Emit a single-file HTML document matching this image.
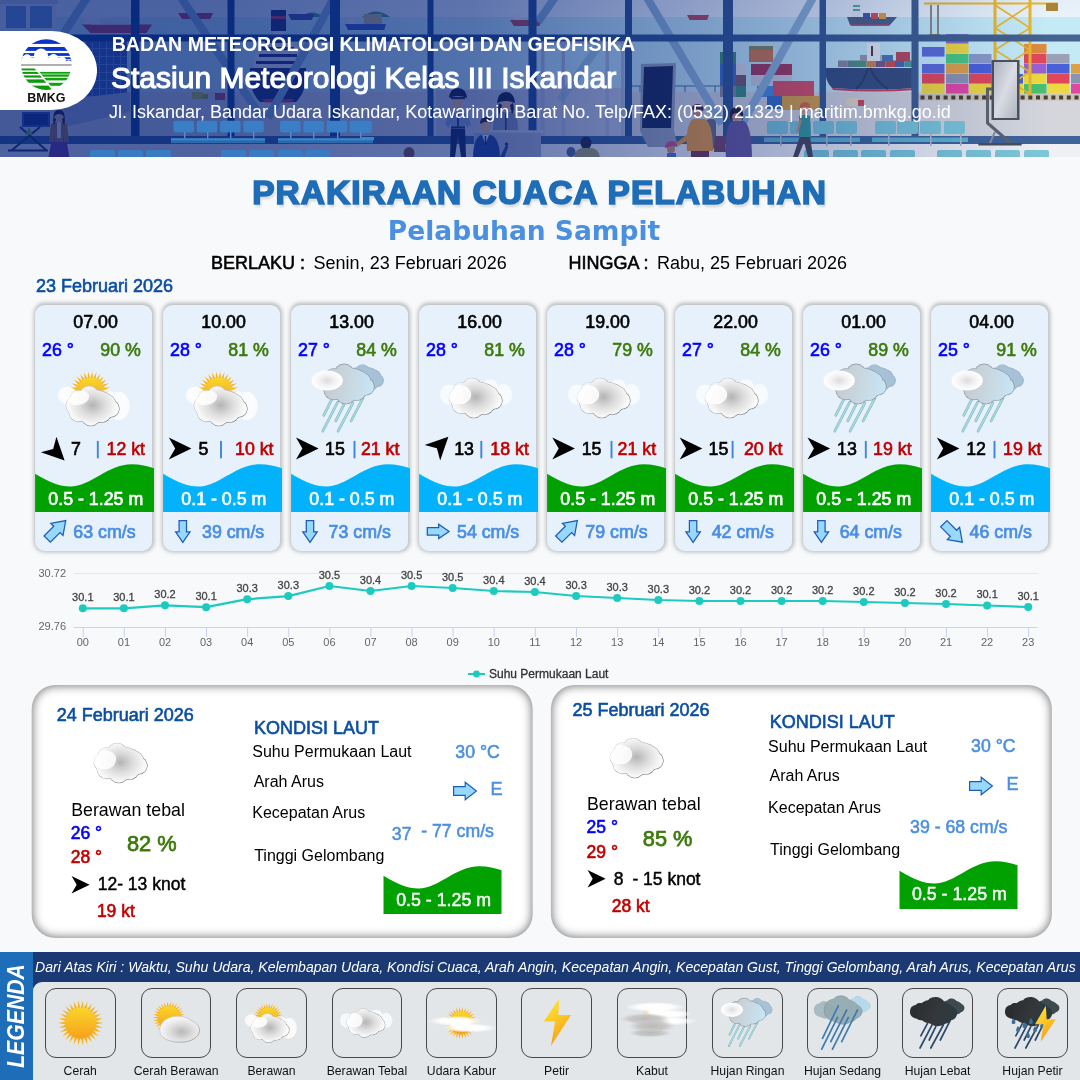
<!DOCTYPE html>
<html lang="id"><head><meta charset="utf-8"><title>Prakiraan Cuaca Pelabuhan - Pelabuhan Sampit</title>
<style>
html,body{margin:0;padding:0}
body{width:1080px;height:1080px;position:relative;overflow:hidden;background:#f8f9fb;font-family:"Liberation Sans",sans-serif}
.t{position:absolute;white-space:nowrap;line-height:1}
.abs{position:absolute}
.card{position:absolute;top:305px;width:118px;height:245px}
.card>.bg{position:absolute;left:0;top:0;width:117.4px;height:246.1px;background:#e7f1fc;border-radius:9.5px;box-shadow:0 0 4.5px 1px rgba(0,0,0,.27);transform:translate(.1px,-.1px)}
.panel{position:absolute;left:0;top:0;width:501.2px;height:253.3px;background:#fff;border-radius:24px;box-shadow:inset 0 0 10px 1px rgba(0,0,0,.52)}
svg{position:absolute;overflow:visible}
#w{position:absolute;left:0;top:0;width:1080px;height:1080px;overflow:hidden;will-change:transform;transform:translateZ(0)}
</style></head><body><div id="w">

<svg width="0" height="0" style="left:0;top:0"><defs>
<radialGradient id="gCl" gradientUnits="userSpaceOnUse" cx="26.5" cy="24" r="27" gradientTransform="scale(1,0.8)"><stop offset="0" stop-color="#b4b4b4"/><stop offset="0.45" stop-color="#dcdcdc"/><stop offset="0.85" stop-color="#f6f6f6"/><stop offset="1" stop-color="#fdfdfd"/></radialGradient>
<linearGradient id="gClS" gradientUnits="userSpaceOnUse" x1="5" y1="0" x2="45" y2="40"><stop offset="0" stop-color="#d8d8d8"/><stop offset="0.5" stop-color="#aaa"/><stop offset="1" stop-color="#6e6e6e"/></linearGradient>
<radialGradient id="gCl2" cx="0.55" cy="0.6" r="0.6"><stop offset="0" stop-color="#b8b8b8"/><stop offset="0.5" stop-color="#dedede"/><stop offset="0.9" stop-color="#f6f6f6"/><stop offset="1" stop-color="#fdfdfd"/></radialGradient>
<linearGradient id="gClS2" x1="0" y1="0" x2="1" y2="1"><stop offset="0" stop-color="#d8d8d8"/><stop offset="0.5" stop-color="#aaa"/><stop offset="1" stop-color="#6e6e6e"/></linearGradient>
<linearGradient id="gSun" x1="0" y1="0" x2="0" y2="1"><stop offset="0" stop-color="#f9d62a"/><stop offset="1" stop-color="#f8a01c"/></linearGradient>
<linearGradient id="gRn" gradientUnits="userSpaceOnUse" x1="0" y1="12" x2="53" y2="24"><stop offset="0" stop-color="#c4c7ca"/><stop offset="0.5" stop-color="#c9d6df"/><stop offset="1" stop-color="#c6e6f7"/></linearGradient>
<radialGradient id="gPf" cx="0.5" cy="0.5" r="0.5"><stop offset="0" stop-color="#dcdcdc"/><stop offset="0.55" stop-color="#f4f4f4"/><stop offset="1" stop-color="#ffffff"/></radialGradient>
<linearGradient id="gBolt" x1="0.3" y1="0" x2="0.7" y2="1"><stop offset="0" stop-color="#fde53a"/><stop offset="0.5" stop-color="#fbc222"/><stop offset="1" stop-color="#f6921e"/></linearGradient>
<linearGradient id="gDk" x1="0" y1="0" x2="1" y2="0.3"><stop offset="0" stop-color="#2a2d30"/><stop offset="0.6" stop-color="#34383b"/><stop offset="1" stop-color="#2b3a40"/></linearGradient>
<clipPath id="cpCl"><path d="M13.4,4.6 C16,0.6 22,-0.6 27,0.4 C31,1.2 33.4,3.8 35.4,6 C40,7.4 44,10 47,13 C51,15 53.6,18.5 53.3,22.5 C53,27 50,30.5 45,32 C43,35 40,36.5 37,36.6 C34,39 29,40.3 25,39.9 C21,39.5 18,38 16,36.4 C12,36 8,34.5 5,32 C1.5,29 0,25 0,21.5 C0,16 1,12 4,9 C7,6.3 10,5 13.4,4.6 Z"/></clipPath>
<clipPath id="cpCl2"><circle cx="23.1" cy="9.7" r="9.70"/><circle cx="33.5" cy="13.5" r="8.20"/><circle cx="40.5" cy="17.3" r="9.00"/><circle cx="44.7" cy="22.6" r="8.60"/><circle cx="36.0" cy="27.8" r="8.60"/><circle cx="24.8" cy="30.0" r="9.90"/><circle cx="12.6" cy="26.2" r="9.60"/><circle cx="8.9" cy="19.5" r="8.90"/><circle cx="12.5" cy="13.0" r="8.40"/><ellipse cx="26.6" cy="20.4" rx="23.60" ry="16.60"/></clipPath>
<clipPath id="cpSunTop"><rect x="-30" y="-30" width="60" height="38"/></clipPath>
<clipPath id="cpB"><circle cx="46.3" cy="64.6" r="25.3"/></clipPath>
<clipPath id="cpBL"><path d="M20,66 H32.6 L52.9,91 H20z"/></clipPath>
<clipPath id="cpBR"><path d="M34.6,66 H73 V91 H54.9z"/></clipPath>
</defs></svg>
<svg style="left:0;top:0" width="1080" height="157" viewBox="0 0 1080 157">
<defs><linearGradient id="hOv" x1="0" y1="0" x2="1" y2="0"><stop offset="0" stop-color="#001e78" stop-opacity="0.68"/><stop offset="0.2" stop-color="#001e78" stop-opacity="0.67"/><stop offset="0.44" stop-color="#001e78" stop-opacity="0.59"/><stop offset="0.72" stop-color="#001e78" stop-opacity="0.31"/><stop offset="0.97" stop-color="#001e78" stop-opacity="0"/></linearGradient><linearGradient id="hBar" gradientUnits="userSpaceOnUse" x1="0" y1="0" x2="1080" y2="0"><stop offset="0" stop-color="#12428f"/><stop offset="0.5" stop-color="#2a5290"/><stop offset="1" stop-color="#46648f"/></linearGradient><linearGradient id="hSky" x1="0" y1="0" x2="0" y2="1"><stop offset="0" stop-color="#e4eef8"/><stop offset="1" stop-color="#eaf3fa"/></linearGradient><linearGradient id="hMir" x1="0" y1="0" x2="1" y2="1"><stop offset="0" stop-color="#b9bdc4"/><stop offset="0.5" stop-color="#e4e6ea"/><stop offset="1" stop-color="#b4b8c0"/></linearGradient><clipPath id="hClip"><rect width="1080" height="157"/></clipPath></defs>
<g clip-path="url(#hClip)">
<rect x="0" y="0" width="1080" height="18" fill="url(#hSky)"/>
<rect x="0" y="17" width="1080" height="78" fill="#c4eaf6"/>
<rect x="0" y="92" width="1080" height="46" fill="#d4d6dc"/>
<rect x="0" y="143" width="1080" height="14" fill="#eef0f4"/>
<path d="M300,17 q12,-9 24,0 z M362,17 q14,-11 28,0 z" fill="#4aa08a"/>
<path d="M82,24.5 h70 l-5.6,8.5 h-56.0 z" fill="#b84060"/>
<rect x="90.4" y="16.85" width="15.4" height="7.65" fill="#e8e8ee"/>
<rect x="100" y="19" width="30" height="5.5" fill="#d8dcea"/>
<rect x="84" y="14" width="6" height="10" fill="#e8e8f0"/>
<path d="M178,13 h35 l-2.8,6 h-28.0 z" fill="#b84060"/>
<rect x="182.2" y="7.6" width="7.7" height="5.4" fill="#e8e8ee"/>
<path d="M288,14 h26 l-2.1,6 h-20.8 z" fill="#4a5a9a"/>
<rect x="291.12" y="8.6" width="5.72" height="5.4" fill="#e8e8ee"/>
<path d="M345,24 h26 l-2.1,6 h-20.8 z" fill="#3f5fc0"/>
<rect x="348.12" y="18.6" width="5.72" height="5.4" fill="#e8e8ee"/>
<path d="M362,24 h24 l-1.9,6 h-19.2 z" fill="#3f5fc0"/>
<rect x="364.88" y="18.6" width="5.28" height="5.4" fill="#e8e8ee"/>
<rect x="364" y="14" width="18" height="10" fill="#c8b888"/>
<path d="M510,20 h32 l-2.6,6 h-25.6 z" fill="#c04a5a"/>
<rect x="513.84" y="14.6" width="7.04" height="5.4" fill="#e8e8ee"/>
<path d="M687,15 h22 l-1.8,5 h-17.6 z" fill="#c04a5a"/>
<rect x="689.64" y="10.5" width="4.84" height="4.5" fill="#e8e8ee"/>
<path d="M847,17 h50 l-7,8 h-40 z" fill="#4c6288"/><path d="M850,24.5 h40 l-1,1.5 h-38z" fill="#d0485a"/>
<rect x="852" y="3" width="9" height="14" fill="#e4eef0"/>
<rect x="853" y="5" width="7" height="2" fill="#5fa8b0"/>
<rect x="853" y="9" width="7" height="2" fill="#5fa8b0"/>
<rect x="863" y="13" width="7" height="3" fill="#4a5a9a"/>
<rect x="871" y="13" width="7" height="3" fill="#d8504a"/>
<rect x="879" y="13" width="7" height="3" fill="#e0a040"/>
<rect x="863" y="16" width="7" height="3" fill="#4a5a9a"/>
<rect x="871" y="16" width="7" height="3" fill="#d8504a"/>
<rect x="879" y="16" width="7" height="3" fill="#e0a040"/>
<path d="M250,68 h56 q2,22 -10,34 h-36 q-12,-12 -10,-34z" fill="#27356e"/>
<path d="M262,99 h32 l-3,3.5 h-26z" fill="#c8405a"/>
<path d="M253,68 q1,-26 25,-38 q24,12 25,38z" fill="#e8ecf4"/>
<rect x="265.0" y="40" width="26" height="3" fill="#27356e"/>
<rect x="262.0" y="47" width="32" height="3" fill="#27356e"/>
<rect x="259.0" y="54" width="38" height="3" fill="#27356e"/>
<rect x="256.0" y="61" width="44" height="3" fill="#27356e"/>
<rect x="271" y="10" width="15" height="21" fill="#27356e"/>
<rect x="271" y="16" width="15" height="3" fill="#c8405a"/>
<path d="M826,68 h90 v20 q-40,3 -84,0 q-8,-8 -6,-20z" fill="#38507c"/>
<path d="M832,88 q44,3 84,0 v2 q-40,3 -83,0z" fill="#c8405a"/>
<path d="M868,68 q-4,14 -12,21 M870,68 q6,14 18,21" stroke="#2c4168" stroke-width="2" fill="none"/>
<rect x="838.0" y="60.5" width="9.5" height="6.5" fill="#8a8a9a"/>
<rect x="847.5" y="60.5" width="9.5" height="6.5" fill="#5a8a8a"/>
<rect x="857.0" y="60.5" width="9.5" height="6.5" fill="#4a9a7a"/>
<rect x="866.5" y="60.5" width="9.5" height="6.5" fill="#c8884a"/>
<rect x="876.0" y="60.5" width="9.5" height="6.5" fill="#7a5a8a"/>
<rect x="885.5" y="60.5" width="9.5" height="6.5" fill="#c8504a"/>
<rect x="895.0" y="60.5" width="9.5" height="6.5" fill="#4a6ab0"/>
<rect x="904.5" y="60.5" width="9.5" height="6.5" fill="#4a9a9a"/>
<rect x="860" y="55" width="11" height="6" fill="#9a9aa8"/>
<rect x="871" y="55" width="11" height="6" fill="#b8b8c4"/>
<rect x="882" y="55" width="11" height="6" fill="#4a7ab0"/>
<rect x="867" y="43" width="13" height="18" fill="#eceef2"/>
<rect x="871" y="46" width="2" height="10" fill="#444"/>
<rect x="896" y="52" width="14" height="9" fill="#b84a5a"/>
<rect x="192" y="92" width="11" height="7" fill="#c8c040"/>
<rect x="203" y="94" width="5" height="5" fill="#a8a838"/>
<rect x="215" y="93" width="10" height="7" fill="#c04a5a"/>
<rect x="846" y="98" width="12" height="8" fill="#e8dcc0"/>
<rect x="858" y="100" width="6" height="6" fill="#d0485a"/>
<rect x="85" y="40" width="42" height="62" fill="#3f63b8"/>
<rect x="85" y="40" width="1" height="62" fill="#6f90d0"/>
<rect x="92" y="40" width="1" height="62" fill="#6f90d0"/>
<rect x="99" y="40" width="1" height="62" fill="#6f90d0"/>
<rect x="106" y="40" width="1" height="62" fill="#6f90d0"/>
<rect x="113" y="40" width="1" height="62" fill="#6f90d0"/>
<rect x="120" y="40" width="1" height="62" fill="#6f90d0"/>
<rect x="85" y="40" width="42" height="1" fill="#6f90d0"/>
<rect x="85" y="48" width="42" height="1" fill="#6f90d0"/>
<rect x="85" y="56" width="42" height="1" fill="#6f90d0"/>
<rect x="85" y="64" width="42" height="1" fill="#6f90d0"/>
<rect x="85" y="72" width="42" height="1" fill="#6f90d0"/>
<rect x="85" y="80" width="42" height="1" fill="#6f90d0"/>
<rect x="85" y="88" width="42" height="1" fill="#6f90d0"/>
<rect x="85" y="96" width="42" height="1" fill="#6f90d0"/>
<path d="M60,100 L130,92 L130,112 L60,128z" fill="#aab4d0"/>
<path d="M0,0 h56 v30 h-56z" fill="#dfe6f0"/>
<rect x="6" y="6" width="20" height="22" fill="#6f9ad0"/>
<rect x="30" y="6" width="22" height="22" fill="#6f9ad0"/>
<rect x="0" y="0" width="58" height="4" fill="#c4cede"/>
<rect x="720" y="52" width="16" height="12" fill="#3f8f6f"/>
<rect x="720" y="64" width="16" height="11" fill="#4070c4"/>
<rect x="736" y="64" width="10" height="11" fill="#dadce4"/>
<rect x="736" y="75" width="10" height="11" fill="#7a5a6a"/>
<rect x="720" y="75" width="16" height="11" fill="#4070c4"/>
<rect x="720" y="86" width="16" height="11" fill="#8a8a9a"/>
<rect x="736" y="86" width="10" height="11" fill="#3f8f7f"/>
<rect x="749" y="50" width="24" height="12" fill="#cf7a4c"/>
<rect x="749" y="46" width="24" height="4" fill="#8a8a5a"/>
<rect x="751" y="64" width="41" height="11" fill="#a83c5c"/>
<rect x="751" y="75" width="41" height="11" fill="#cfd1dc"/>
<rect x="757" y="86" width="18" height="11" fill="#4a90dc"/>
<rect x="773" y="81" width="41" height="15" fill="#dc5262"/>
<rect x="767" y="96" width="15" height="13" fill="#3a70c4"/>
<rect x="782" y="96" width="37" height="14" fill="#dca444"/>
<rect x="922" y="47" width="22.5" height="9.6" fill="#5b6bd8"/>
<rect x="922" y="64" width="22.5" height="9.6" fill="#5b6bd8"/>
<rect x="922" y="74" width="22.5" height="9.6" fill="#e0485a"/>
<rect x="922" y="84" width="22.5" height="9.6" fill="#ecd840"/>
<rect x="946" y="34" width="22.5" height="9.6" fill="#8a6ad0"/>
<rect x="946" y="44" width="22.5" height="9.6" fill="#ecd840"/>
<rect x="946" y="54" width="22.5" height="9.6" fill="#48c880"/>
<rect x="946" y="64" width="22.5" height="9.6" fill="#dca048"/>
<rect x="946" y="74" width="22.5" height="9.6" fill="#8a94b0"/>
<rect x="946" y="84" width="22.5" height="9.6" fill="#e048a0"/>
<rect x="969" y="54" width="22.5" height="9.6" fill="#8a9ac8"/>
<rect x="969" y="64" width="22.5" height="9.6" fill="#4a60d8"/>
<rect x="969" y="74" width="22.5" height="9.6" fill="#e0485a"/>
<rect x="969" y="84" width="22.5" height="9.6" fill="#ecd840"/>
<rect x="1024" y="44" width="22.5" height="9.6" fill="#dc8a40"/>
<rect x="1024" y="54" width="22.5" height="9.6" fill="#e0485a"/>
<rect x="1024" y="64" width="22.5" height="9.6" fill="#9a60d0"/>
<rect x="1024" y="74" width="22.5" height="9.6" fill="#ecd840"/>
<rect x="1024" y="84" width="22.5" height="9.6" fill="#48c070"/>
<rect x="1047" y="54" width="22.5" height="9.6" fill="#9aa0b8"/>
<rect x="1047" y="64" width="22.5" height="9.6" fill="#4a60d8"/>
<rect x="1047" y="74" width="22.5" height="9.6" fill="#e0485a"/>
<rect x="1047" y="84" width="22.5" height="9.6" fill="#ecd840"/>
<rect x="1071" y="64" width="22.5" height="9.6" fill="#dca048"/>
<rect x="1071" y="74" width="22.5" height="9.6" fill="#8a94b0"/>
<rect x="1071" y="84" width="22.5" height="9.6" fill="#e048a0"/>
<rect x="993" y="64" width="15" height="9.6" fill="#e0485a"/>
<rect x="993" y="74" width="15" height="9.6" fill="#ecd840"/>
<rect x="993" y="84" width="15" height="9.6" fill="#e048a0"/>
<rect x="1008" y="74" width="15" height="9.6" fill="#4a60d8"/>
<rect x="1008" y="84" width="15" height="9.6" fill="#ecd840"/>
<rect x="918" y="94.2" width="162" height="6.3" fill="#c8c4b8"/>
<rect x="920.5" y="95.5" width="4" height="4" fill="#4a4030"/>
<rect x="928.2" y="95.5" width="4" height="4" fill="#4a4030"/>
<rect x="935.9" y="95.5" width="4" height="4" fill="#4a4030"/>
<rect x="943.6" y="95.5" width="4" height="4" fill="#4a4030"/>
<rect x="951.3" y="95.5" width="4" height="4" fill="#4a4030"/>
<rect x="959.0" y="95.5" width="4" height="4" fill="#4a4030"/>
<rect x="966.7" y="95.5" width="4" height="4" fill="#4a4030"/>
<rect x="974.4" y="95.5" width="4" height="4" fill="#4a4030"/>
<rect x="982.1" y="95.5" width="4" height="4" fill="#4a4030"/>
<rect x="989.8" y="95.5" width="4" height="4" fill="#4a4030"/>
<rect x="997.5" y="95.5" width="4" height="4" fill="#4a4030"/>
<rect x="1005.2" y="95.5" width="4" height="4" fill="#4a4030"/>
<rect x="1012.9" y="95.5" width="4" height="4" fill="#4a4030"/>
<rect x="1020.6" y="95.5" width="4" height="4" fill="#4a4030"/>
<rect x="1028.3" y="95.5" width="4" height="4" fill="#4a4030"/>
<rect x="1036.0" y="95.5" width="4" height="4" fill="#4a4030"/>
<rect x="1043.7" y="95.5" width="4" height="4" fill="#4a4030"/>
<rect x="1051.4" y="95.5" width="4" height="4" fill="#4a4030"/>
<rect x="1059.1" y="95.5" width="4" height="4" fill="#4a4030"/>
<rect x="1066.8" y="95.5" width="4" height="4" fill="#4a4030"/>
<rect x="1074.5" y="95.5" width="4" height="4" fill="#4a4030"/>
<rect x="1082.2" y="95.5" width="4" height="4" fill="#4a4030"/>
<g fill="none" stroke="#e6b62c" stroke-width="2.2"><path d="M924,3.5 H1058"/><path d="M995,0 V95 M1030,0 V95" stroke-width="3"/><path d="M995,5 L1030,28 L995,50 L1030,72 L995,94 M1030,5 L995,28 L1030,50 L995,72 L1030,94" stroke-width="1.6"/></g>
<rect x="1046" y="3" width="12" height="8" fill="#a8843a"/>
<rect x="930" y="5" width="2" height="30" fill="#8a8a8a"/>
<rect x="937" y="5" width="2" height="30" fill="#8a8a8a"/>
<rect x="929" y="34" width="11" height="3" fill="#a8843a"/>
<rect x="436" y="90" width="190" height="46" fill="#c2c6d8"/>
<rect x="540" y="88" width="85" height="48" fill="#c6cadc"/>
<rect x="541" y="42" width="3.5" height="94" fill="#b4bcd8"/>
<rect x="561.5" y="42" width="3.5" height="94" fill="#b4bcd8"/>
<rect x="605.5" y="42" width="3.5" height="94" fill="#b4bcd8"/>
<rect x="621" y="42" width="3.5" height="94" fill="#b4bcd8"/>
<rect x="540" y="42" width="85" height="2.5" fill="#b4bcd8"/>
<path d="M631,86 H720 M640,86v6 M655,86v6 M670,86v6 M685,86v6 M700,86v6 M715,86v6" stroke="#5a6a90" stroke-width="1" fill="none"/>
<g stroke="#90b5d6" stroke-width="8" fill="none"><path d="M180,-4 L262,118"/><path d="M335,-4 L268,118"/><path d="M88,-4 L40,70"/><path d="M556,-4 L538,22"/><path d="M646,-4 L722,124"/><path d="M814,-4 L742,124"/><path d="M600,44 L560,100" stroke-opacity="0.6"/></g>
<rect x="131" y="0" width="8.5" height="140" fill="url(#hBar)"/>
<rect x="227.5" y="0" width="7" height="140" fill="url(#hBar)"/>
<rect x="330" y="0" width="10" height="140" fill="url(#hBar)"/>
<rect x="427.5" y="0" width="6" height="140" fill="url(#hBar)"/>
<rect x="528.5" y="0" width="8" height="140" fill="url(#hBar)"/>
<rect x="625" y="0" width="7" height="140" fill="url(#hBar)"/>
<rect x="723" y="0" width="10" height="140" fill="url(#hBar)"/>
<rect x="819.5" y="0" width="6.5" height="140" fill="url(#hBar)"/>
<rect x="911.5" y="0" width="7" height="140" fill="url(#hBar)"/>
<rect x="0" y="34.5" width="1080" height="7" fill="url(#hBar)"/>
<rect x="0" y="136" width="1080" height="8" fill="#3f6499"/>
<path d="M641,64 L676,63 L674,131 L640,131z" fill="#9aa2b8"/><path d="M644,67 L673,66 L671,128 L642,128z" fill="#1f2c58"/>
<path d="M640,131 h34 l4,16 h-30z" fill="#9aa2b8"/>
<rect x="991.5" y="60" width="28" height="60" fill="#4e525c"/>
<rect x="994" y="62" width="23" height="56" fill="url(#hMir)"/>
<path d="M992,89 h-4.5 v34 l23,20" stroke="#5e636c" stroke-width="3" fill="none"/><path d="M978.3,144.3 h43.4" stroke="#4a4e58" stroke-width="2.6"/><path d="M990,143 l5,-11" stroke="#8a8f98" stroke-width="2"/>
<rect x="767" y="121" width="21" height="13" fill="#7cc8d8" rx="2"/>
<rect x="790" y="121" width="21" height="13" fill="#7cc8d8" rx="2"/>
<rect x="813" y="121" width="21" height="13" fill="#7cc8d8" rx="2"/>
<rect x="836" y="121" width="21" height="13" fill="#7cc8d8" rx="2"/>
<rect x="875" y="121" width="21" height="13" fill="#7cc8d8" rx="2"/>
<rect x="897" y="121" width="21" height="13" fill="#7cc8d8" rx="2"/>
<rect x="920" y="121" width="21" height="13" fill="#7cc8d8" rx="2"/>
<rect x="944" y="121" width="21" height="13" fill="#7cc8d8" rx="2"/>
<rect x="764" y="137.5" width="96" height="4.5" fill="#5fb4cc"/>
<rect x="872" y="137.5" width="96" height="4.5" fill="#5fb4cc"/>
<rect x="780" y="134" width="1.6" height="12" fill="#b0b8c8"/>
<rect x="826" y="134" width="1.6" height="12" fill="#b0b8c8"/>
<rect x="850" y="134" width="1.6" height="12" fill="#b0b8c8"/>
<rect x="888" y="134" width="1.6" height="12" fill="#b0b8c8"/>
<rect x="930" y="134" width="1.6" height="12" fill="#b0b8c8"/>
<rect x="960" y="134" width="1.6" height="12" fill="#b0b8c8"/>
<rect x="804" y="150" width="25" height="10" fill="#7cc8d8" rx="2"/>
<rect x="833" y="150" width="25" height="10" fill="#7cc8d8" rx="2"/>
<rect x="861" y="150" width="25" height="10" fill="#7cc8d8" rx="2"/>
<rect x="890" y="150" width="25" height="10" fill="#7cc8d8" rx="2"/>
<rect x="937" y="150" width="25" height="10" fill="#7cc8d8" rx="2"/>
<rect x="966" y="150" width="25" height="10" fill="#7cc8d8" rx="2"/>
<rect x="995" y="150" width="25" height="10" fill="#7cc8d8" rx="2"/>
<rect x="1024" y="150" width="25" height="10" fill="#7cc8d8" rx="2"/>
<path d="M52,138 L66,138 L70,160 L48,160z" fill="#7a3f9a"/>
<path d="M51,124 q8,-5 16,0 l2,18 h-5 l-1,-8 v8 h-8 v-8 l-1,8 h-5z" fill="#a87850"/>
<rect x="57" y="122" width="4" height="16" fill="#f0f0f4"/>
<ellipse cx="59" cy="117" rx="4.2" ry="4.8" fill="#e8b89a"/>
<path d="M53.5,119 q-1,-9 5.5,-9 q6.5,0 5.5,9 q-1,-5 -5.5,-5 q-4.5,0 -5.5,5z" fill="#2a2040"/>
<path d="M53.5,117 q-1,6 1,8 l1.5,-6z M64.5,117 q1,6 -1,8 l-1.5,-6z" fill="#2a2040"/>
<rect x="22" y="112" width="28" height="15" fill="#3a5aa8"/>
<rect x="24" y="114" width="24" height="11" fill="#1f3a88"/>
<path d="M12,150 L40,127 M20,127 L46,150 M8,150.5 H48" stroke="#26386e" stroke-width="2" fill="none"/>
<path d="M25,135 l4,-8 l4,8z" fill="#7ab86a"/>
<path d="M451,128 h14 l1,29 h-5 l-3,-22 l-3,22 h-5z" fill="#1f2a58"/>
<path d="M448,114 q10,-4 20,0 l3,10 l-4,4 l-2,-5 v6 h-14 v-6 l-2,5 l-4,-4z" fill="#8fa4d0"/>
<rect x="451" y="126.5" width="14" height="2" fill="#27305a"/>
<rect x="457.2" y="113" width="1.6" height="14" fill="#27305a"/>
<ellipse cx="458" cy="103" rx="5.2" ry="5.6" fill="#e8b89a"/>
<path d="M449,98 q1,-10 9,-10 q8,0 9,10 q-9,-4 -18,0z" fill="#1f2340"/>
<rect x="451" y="97" width="14" height="2.2" fill="#2a2f50"/>
<path d="M493,130 q0,-16 6,-18 h13 q6,2 6,18z" fill="#8c94b4"/>
<rect x="505" y="113" width="1.5" height="17" fill="#3a4060"/>
<ellipse cx="506" cy="106" rx="5" ry="5.4" fill="#e8b89a"/>
<path d="M497,103 q1,-11 9,-11 q8,0 9,11 q-9,-4 -18,0z" fill="#1f2340"/>
<path d="M499,103 q-2,8 1,11 l2,-9z M513,103 q2,8 -1,11 l-2,-9z" fill="#1f2340"/>
<rect x="474" y="132" width="67" height="26" fill="#aeb4cc"/>
<rect x="471" y="130.3" width="73" height="2.4" fill="#c9cee0"/>
<path d="M473,160 q0,-22 8,-25 h10 q9,3 9,25z" fill="#2c4c9c"/>
<path d="M482,135 l3.5,9 l3.5,-9z" fill="#e6ecf6"/>
<rect x="484.8" y="136" width="1.4" height="9" fill="#1f2a58"/>
<ellipse cx="485.5" cy="126" rx="5" ry="6.6" fill="#e8b89a"/>
<path d="M480,124 q0,-7 6,-7 q6,0 5.5,6 q-5,-3 -11.5,1z" fill="#3a2a30"/>
<path d="M500,157 l6,-12 l2.5,1 l-4,11z" fill="#2c4c9c"/>
<ellipse cx="506.5" cy="144" rx="1.6" ry="1.6" fill="#27305a"/>
<ellipse cx="586" cy="143" rx="5.5" ry="6.5" fill="#2a2a48"/>
<path d="M574,160 q0,-12 10,-12 h6 q10,0 10,12z" fill="#a8a070"/>
<ellipse cx="571" cy="152" rx="4.5" ry="5" fill="#5a6890"/>
<rect x="566" y="157" width="12" height="4" fill="#7a88b0"/>
<ellipse cx="409" cy="153" rx="5.5" ry="6" fill="#8a5a4a"/>
<ellipse cx="671" cy="149" rx="4" ry="4.2" fill="#c89078"/>
<path d="M665,147 q1,-6 6.5,-6 q5.5,0 5.5,5 h-4 l-8,2z" fill="#c8507a"/>
<rect x="667" y="153" width="9" height="5" fill="#4a7ad0"/>
<rect x="706" y="119" width="10" height="30" fill="#6a6e80" rx="4"/>
<path d="M687,151 q-2,-26 6,-32 h12 q8,5 8,32z" fill="#e89a40"/>
<path d="M690,132 l-14,11 l2,3 l14,-8z" fill="#e89a40"/>
<rect x="691" y="151" width="18" height="7" fill="#7a3a58"/>
<ellipse cx="697.5" cy="112" rx="5" ry="5.6" fill="#c89078"/>
<path d="M691.5,111 q0,-7 6,-7 q6.5,0 6,7 q-6,-4 -12,0z" fill="#4a2a50"/>
<path d="M715,136 h10 l1,16 h-12z" fill="#7a4668"/>
<path d="M726,160 q-2,-34 6,-39 h12 q8,5 8,39z" fill="#6a5c9c"/>
<ellipse cx="736.5" cy="116" rx="4.6" ry="5.2" fill="#c89078"/>
<path d="M730,117 q-1,-10 6.5,-10 q7.5,0 6.5,10 l-1,5 q0,-9 -5.5,-9 q-5.5,0 -5.5,9z" fill="#2e2438"/>
<path d="M800,136 h10 l3,21 h-5 l-4,-15 l-6,15 h-5z" fill="#4a4a5a"/>
<path d="M799,116 q5,-3 11,0 l1,21 h-12z" fill="#3a9e98"/>
<path d="M800,118 l-4,14 l2,1 l4,-12z" fill="#c89078"/>
<ellipse cx="804.5" cy="110" rx="4.2" ry="4.8" fill="#d8a080"/>
<path d="M799.5,109 q0,-7 5.5,-7 q5.5,0 5,6 q-5,-3 -10.5,1z" fill="#e0683a"/>
<rect x="0" y="0" width="1080" height="157" fill="url(#hOv)"/>
<rect x="173.5" y="120.8" width="20.6" height="11.6" fill="#3a7ec6" rx="2"/>
<rect x="196.7" y="120.8" width="20.6" height="11.6" fill="#3a7ec6" rx="2"/>
<rect x="220" y="120.8" width="20.6" height="11.6" fill="#3a7ec6" rx="2"/>
<rect x="243.2" y="120.8" width="20.6" height="11.6" fill="#3a7ec6" rx="2"/>
<rect x="280" y="120.8" width="20.6" height="11.6" fill="#3a7ec6" rx="2"/>
<rect x="303.3" y="120.8" width="20.6" height="11.6" fill="#3a7ec6" rx="2"/>
<rect x="326.6" y="120.8" width="20.6" height="11.6" fill="#3a7ec6" rx="2"/>
<rect x="349.8" y="120.8" width="20.6" height="11.6" fill="#3a7ec6" rx="2"/>
<rect x="184" y="132" width="1.4" height="6.5" fill="#5a8ad0"/>
<rect x="207" y="132" width="1.4" height="6.5" fill="#5a8ad0"/>
<rect x="230" y="132" width="1.4" height="6.5" fill="#5a8ad0"/>
<rect x="253" y="132" width="1.4" height="6.5" fill="#5a8ad0"/>
<rect x="290" y="132" width="1.4" height="6.5" fill="#5a8ad0"/>
<rect x="313" y="132" width="1.4" height="6.5" fill="#5a8ad0"/>
<rect x="337" y="132" width="1.4" height="6.5" fill="#5a8ad0"/>
<rect x="360" y="132" width="1.4" height="6.5" fill="#5a8ad0"/>
<rect x="171" y="138.2" width="94" height="2.6" fill="#3c86c8"/>
<rect x="171" y="140.8" width="94" height="2.4" fill="#2a68b0"/>
<rect x="278" y="138.2" width="95" height="2.6" fill="#3c86c8"/>
<rect x="278" y="140.8" width="95" height="2.4" fill="#2a68b0"/>
<rect x="90" y="150" width="25" height="9" fill="#3a7cc4" rx="2.5"/>
<rect x="118" y="150" width="25" height="9" fill="#3a7cc4" rx="2.5"/>
<rect x="146" y="150" width="25" height="9" fill="#3a7cc4" rx="2.5"/>
<rect x="221" y="150" width="25" height="9" fill="#3a7cc4" rx="2.5"/>
<rect x="249" y="150" width="25" height="9" fill="#3a7cc4" rx="2.5"/>
<rect x="277.5" y="150" width="25" height="9" fill="#3a7cc4" rx="2.5"/>
<rect x="305" y="150" width="25" height="9" fill="#3a7cc4" rx="2.5"/>
<rect x="360" y="121" width="12" height="12" fill="#3a7ec6" rx="2"/>
<rect x="360" y="137" width="14" height="3" fill="#3c86c8"/>
</g></svg>
<div class="abs" style="left:-40px;top:31px;width:137px;height:79px;background:#fff;border-radius:0 45.5px 45.5px 0/0 39.5px 39.5px 0"></div>
<svg style="left:0;top:0" width="100" height="120" viewBox="0 0 100 120"><g><g clip-path="url(#cpB)"><rect x="20" y="39" width="53" height="4.9" fill="#0a34cc"/><rect x="20" y="47" width="53" height="3.9" fill="#0a34cc"/><rect x="20" y="53.1" width="53" height="2.8" fill="#0a34cc"/><rect x="20" y="57.3" width="53" height="2.0" fill="#0a34cc"/><rect x="20" y="60.2" width="53" height="1.1" fill="#0a34cc"/><g fill="#fff"><circle cx="41" cy="55.6" r="7"/><circle cx="27" cy="58.5" r="4.2"/><circle cx="53.5" cy="58.3" r="4.4"/><circle cx="62.5" cy="60.3" r="3.4"/><circle cx="68.6" cy="62" r="1.8"/><rect x="20" y="57.5" width="44" height="8"/><rect x="20" y="61.5" width="53" height="4"/></g><rect x="20" y="64.1" width="53" height="1.8" fill="#a8a8a8"/><g clip-path="url(#cpBL)" fill="#0a9a0a"><rect x="20" y="68.5" width="53" height="1.9"/><rect x="20" y="71.9" width="53" height="2.0"/><rect x="20" y="75.4" width="53" height="2.2"/><rect x="20" y="79.4" width="53" height="3.4"/><rect x="20" y="85.6" width="53" height="4.9"/></g><g clip-path="url(#cpBR)" fill="#10a010"><rect x="20" y="71.9" width="53" height="1.8"/><rect x="20" y="74.4" width="53" height="2.3"/><rect x="20" y="77.8" width="53" height="2.6"/><rect x="20" y="82.8" width="53" height="3.0"/></g></g></g></svg>
<div class="t" style="left:46.3px;top:92px;font-size:12.5px;color:#111;font-weight:bold;transform:translateX(-50%);">BMKG</div>
<div class="t" style="left:111.7px;top:35px;font-size:19.55px;color:#fff;font-weight:bold;">BADAN METEOROLOGI KLIMATOLOGI DAN GEOFISIKA</div>
<div class="t" style="left:111.0px;top:63px;font-size:30px;color:#fff;-webkit-text-stroke:1.1px #fff;">Stasiun Meteorologi Kelas III Iskandar</div>
<div class="t" style="left:109.0px;top:103px;font-size:18px;color:#fff;">Jl. Iskandar, Bandar Udara Iskandar, Kotawaringin Barat No. Telp/FAX: (0532) 21329 | maritim.bmkg.go.id</div>
<div class="t" style="left:539.6px;top:176px;font-size:33.5px;color:#1f6db6;font-weight:bold;-webkit-text-stroke:1.7px #1f6db6;transform:translateX(-50%);letter-spacing:1.0px;text-shadow:0 0 1.5px #fff,0 0 1.5px #fff,0 0 2.5px #fff,0 0 3px #fff,1.5px 2.5px 2.5px rgba(0,0,0,.16);">PRAKIRAAN CUACA PELABUHAN</div>
<div class="t" style="left:524.0px;top:218px;font-size:26.5px;color:#4a8fe0;font-weight:bold;font-family:'DejaVu Sans', sans-serif;transform:translateX(-50%);">Pelabuhan Sampit</div>
<div class="t" style="left:211.0px;top:254px;font-size:18px;color:#000;-webkit-text-stroke:0.55px #000;">BERLAKU :</div>
<div class="t" style="left:313.6px;top:254px;font-size:18px;color:#000;">Senin, 23 Februari 2026</div>
<div class="t" style="left:568.5px;top:254px;font-size:18px;color:#000;-webkit-text-stroke:0.55px #000;">HINGGA :</div>
<div class="t" style="left:657.0px;top:254px;font-size:18px;color:#000;">Rabu, 25 Februari 2026</div>
<div class="t" style="left:35.9px;top:277px;font-size:18px;color:#0b4ea2;-webkit-text-stroke:0.6px #0b4ea2;">23 Februari 2026</div>
<div class="card" style="left:35px"><div class="bg"></div>
<div class="t" style="left:60.6px;top:9px;font-size:17.8px;color:#000;-webkit-text-stroke:0.62px #000;transform:translateX(-50%);">07.00</div>
<div class="t" style="left:7.0px;top:37px;font-size:17.8px;color:#0000ff;-webkit-text-stroke:0.62px #0000ff;">26 °</div>
<div class="t" style="left:65.3px;top:37px;font-size:17.8px;color:#3d7a0c;-webkit-text-stroke:0.62px #3d7a0c;">90 %</div>
<svg style="left:30.5px;top:81px" width="54" height="40" viewBox="0 0 54 40"><g><g transform="translate(24.2,5.6) scale(0.9)" clip-path="url(#cpSunTop)"><g><path d="M14.50,1.50L22.50,0.00L14.50,-1.50ZM13.87,4.48L22.01,4.68L14.50,1.55ZM12.64,7.27L20.55,9.15L13.86,4.53ZM10.85,9.74L18.20,13.23L12.61,7.31ZM8.59,11.78L15.06,16.72L10.82,9.77ZM5.95,13.31L11.25,19.49L8.55,11.81ZM3.05,14.25L6.95,21.40L5.91,13.33ZM0.02,14.58L2.35,22.38L3.01,14.26ZM-3.01,14.26L-2.35,22.38L-0.02,14.58ZM-5.91,13.33L-6.95,21.40L-3.05,14.25ZM-8.55,11.81L-11.25,19.49L-5.95,13.31ZM-10.82,9.77L-15.06,16.72L-8.59,11.78ZM-12.61,7.31L-18.20,13.23L-10.85,9.74ZM-13.86,4.53L-20.55,9.15L-12.64,7.27ZM-14.50,1.55L-22.01,4.68L-13.87,4.48ZM-14.50,-1.50L-22.50,0.00L-14.50,1.50ZM-13.87,-4.48L-22.01,-4.68L-14.50,-1.55ZM-12.64,-7.27L-20.55,-9.15L-13.86,-4.53ZM-10.85,-9.74L-18.20,-13.23L-12.61,-7.31ZM-8.59,-11.78L-15.06,-16.72L-10.82,-9.77ZM-5.95,-13.31L-11.25,-19.49L-8.55,-11.81ZM-3.05,-14.25L-6.95,-21.40L-5.91,-13.33ZM-0.02,-14.58L-2.35,-22.38L-3.01,-14.26ZM3.01,-14.26L2.35,-22.38L0.02,-14.58ZM5.91,-13.33L6.95,-21.40L3.05,-14.25ZM8.55,-11.81L11.25,-19.49L5.95,-13.31ZM10.82,-9.77L15.06,-16.72L8.59,-11.78ZM12.61,-7.31L18.20,-13.23L10.85,-9.74ZM13.86,-4.53L20.55,-9.15L12.64,-7.27ZM14.50,-1.55L22.01,-4.68L13.87,-4.48Z" fill="#f7b31c"/><circle r="15.6" fill="url(#gSun)"/></g></g><ellipse cx="1" cy="9.2" rx="9" ry="8.6" fill="#fff" fill-opacity="0.8"/><ellipse cx="52.5" cy="20" rx="11.2" ry="14.3" fill="#fff" fill-opacity="0.8"/><ellipse cx="40" cy="10" rx="9" ry="6" fill="#fff" fill-opacity="0.7"/><g><g fill="url(#gClS)"><circle cx="23.1" cy="9.7" r="10.05"/><circle cx="33.5" cy="13.5" r="8.55"/><circle cx="40.5" cy="17.3" r="9.35"/><circle cx="44.7" cy="22.6" r="8.95"/><circle cx="36.0" cy="27.8" r="8.95"/><circle cx="24.8" cy="30.0" r="10.25"/><circle cx="12.6" cy="26.2" r="9.95"/><circle cx="8.9" cy="19.5" r="9.25"/><circle cx="12.5" cy="13.0" r="8.75"/><ellipse cx="26.6" cy="20.4" rx="23.95" ry="16.95"/></g><g fill="url(#gCl)"><circle cx="23.1" cy="9.7" r="9.50"/><circle cx="33.5" cy="13.5" r="8.00"/><circle cx="40.5" cy="17.3" r="8.80"/><circle cx="44.7" cy="22.6" r="8.40"/><circle cx="36.0" cy="27.8" r="8.40"/><circle cx="24.8" cy="30.0" r="9.70"/><circle cx="12.6" cy="26.2" r="9.40"/><circle cx="8.9" cy="19.5" r="8.70"/><circle cx="12.5" cy="13.0" r="8.20"/><ellipse cx="26.6" cy="20.4" rx="23.40" ry="16.40"/></g></g><g clip-path="url(#cpCl2)"><ellipse cx="12.2" cy="11.7" rx="11" ry="7.4" fill="#fff" fill-opacity="0.85" transform="rotate(-8 12.2 11.7)"/></g></g></svg>
<svg style="left:0;top:0" width="118" height="245" viewBox="0 0 118 245"><path d="M21.43,131.72L29.63,155.48L5.87,147.28L18.17,144.02Z" fill="#000"/><rect x="61.85" y="135.89999999999998" width="1.9" height="17.4" fill="#3f84dc"/><path transform="translate(0.1,159) scale(1.0075,1)" d="M0,9.7 C14,18 24,22.5 35,22.5 C55,22.5 72,0.2 96,0.2 C104,0.2 112,2 118,4.3 L118,48 L0,48 Z" fill="#00a100"/><path d="M9.08,230.94L18.75,221.27L15.78,218.30L30.72,215.58L28.00,230.52L25.03,227.55L15.36,237.22Z" fill="#98d8fd" stroke="#1b5cb8" stroke-width="1.25" stroke-linejoin="miter"/></svg>
<div class="t" style="left:36.0px;top:136px;font-size:17.8px;color:#000;-webkit-text-stroke:0.62px #000;">7</div>
<div class="t" style="left:71.5px;top:136px;font-size:17.8px;color:#c00000;-webkit-text-stroke:0.62px #c00000;">12 kt</div>
<div class="t" style="left:60.8px;top:186px;font-size:17.8px;color:#fff;-webkit-text-stroke:0.62px #fff;transform:translateX(-50%);">0.5 - 1.25 m</div>
<div class="t" style="left:38.3px;top:219px;font-size:17.8px;color:#4a8ee4;-webkit-text-stroke:0.72px #4a8ee4;">63 cm/s</div>
</div>
<div class="card" style="left:163px"><div class="bg"></div>
<div class="t" style="left:60.6px;top:9px;font-size:17.8px;color:#000;-webkit-text-stroke:0.62px #000;transform:translateX(-50%);">10.00</div>
<div class="t" style="left:7.0px;top:37px;font-size:17.8px;color:#0000ff;-webkit-text-stroke:0.62px #0000ff;">28 °</div>
<div class="t" style="left:65.3px;top:37px;font-size:17.8px;color:#3d7a0c;-webkit-text-stroke:0.62px #3d7a0c;">81 %</div>
<svg style="left:30.5px;top:81px" width="54" height="40" viewBox="0 0 54 40"><g><g transform="translate(24.2,5.6) scale(0.9)" clip-path="url(#cpSunTop)"><g><path d="M14.50,1.50L22.50,0.00L14.50,-1.50ZM13.87,4.48L22.01,4.68L14.50,1.55ZM12.64,7.27L20.55,9.15L13.86,4.53ZM10.85,9.74L18.20,13.23L12.61,7.31ZM8.59,11.78L15.06,16.72L10.82,9.77ZM5.95,13.31L11.25,19.49L8.55,11.81ZM3.05,14.25L6.95,21.40L5.91,13.33ZM0.02,14.58L2.35,22.38L3.01,14.26ZM-3.01,14.26L-2.35,22.38L-0.02,14.58ZM-5.91,13.33L-6.95,21.40L-3.05,14.25ZM-8.55,11.81L-11.25,19.49L-5.95,13.31ZM-10.82,9.77L-15.06,16.72L-8.59,11.78ZM-12.61,7.31L-18.20,13.23L-10.85,9.74ZM-13.86,4.53L-20.55,9.15L-12.64,7.27ZM-14.50,1.55L-22.01,4.68L-13.87,4.48ZM-14.50,-1.50L-22.50,0.00L-14.50,1.50ZM-13.87,-4.48L-22.01,-4.68L-14.50,-1.55ZM-12.64,-7.27L-20.55,-9.15L-13.86,-4.53ZM-10.85,-9.74L-18.20,-13.23L-12.61,-7.31ZM-8.59,-11.78L-15.06,-16.72L-10.82,-9.77ZM-5.95,-13.31L-11.25,-19.49L-8.55,-11.81ZM-3.05,-14.25L-6.95,-21.40L-5.91,-13.33ZM-0.02,-14.58L-2.35,-22.38L-3.01,-14.26ZM3.01,-14.26L2.35,-22.38L0.02,-14.58ZM5.91,-13.33L6.95,-21.40L3.05,-14.25ZM8.55,-11.81L11.25,-19.49L5.95,-13.31ZM10.82,-9.77L15.06,-16.72L8.59,-11.78ZM12.61,-7.31L18.20,-13.23L10.85,-9.74ZM13.86,-4.53L20.55,-9.15L12.64,-7.27ZM14.50,-1.55L22.01,-4.68L13.87,-4.48Z" fill="#f7b31c"/><circle r="15.6" fill="url(#gSun)"/></g></g><ellipse cx="1" cy="9.2" rx="9" ry="8.6" fill="#fff" fill-opacity="0.8"/><ellipse cx="52.5" cy="20" rx="11.2" ry="14.3" fill="#fff" fill-opacity="0.8"/><ellipse cx="40" cy="10" rx="9" ry="6" fill="#fff" fill-opacity="0.7"/><g><g fill="url(#gClS)"><circle cx="23.1" cy="9.7" r="10.05"/><circle cx="33.5" cy="13.5" r="8.55"/><circle cx="40.5" cy="17.3" r="9.35"/><circle cx="44.7" cy="22.6" r="8.95"/><circle cx="36.0" cy="27.8" r="8.95"/><circle cx="24.8" cy="30.0" r="10.25"/><circle cx="12.6" cy="26.2" r="9.95"/><circle cx="8.9" cy="19.5" r="9.25"/><circle cx="12.5" cy="13.0" r="8.75"/><ellipse cx="26.6" cy="20.4" rx="23.95" ry="16.95"/></g><g fill="url(#gCl)"><circle cx="23.1" cy="9.7" r="9.50"/><circle cx="33.5" cy="13.5" r="8.00"/><circle cx="40.5" cy="17.3" r="8.80"/><circle cx="44.7" cy="22.6" r="8.40"/><circle cx="36.0" cy="27.8" r="8.40"/><circle cx="24.8" cy="30.0" r="9.70"/><circle cx="12.6" cy="26.2" r="9.40"/><circle cx="8.9" cy="19.5" r="8.70"/><circle cx="12.5" cy="13.0" r="8.20"/><ellipse cx="26.6" cy="20.4" rx="23.40" ry="16.40"/></g></g><g clip-path="url(#cpCl2)"><ellipse cx="12.2" cy="11.7" rx="11" ry="7.4" fill="#fff" fill-opacity="0.85" transform="rotate(-8 12.2 11.7)"/></g></g></svg>
<svg style="left:0;top:0" width="118" height="245" viewBox="0 0 118 245"><path d="M5.80,132.60L28.40,143.60L5.80,154.60L12.20,143.60Z" fill="#000"/><rect x="57.05" y="135.89999999999998" width="1.9" height="17.4" fill="#3f84dc"/><path transform="translate(0.1,159) scale(1.0075,1)" d="M0,9.7 C14,18 24,22.5 35,22.5 C55,22.5 72,0.2 96,0.2 C104,0.2 112,2 118,4.3 L118,48 L0,48 Z" fill="#02b2fa"/><path d="M23.50,215.50L23.50,226.90L27.00,226.90L19.80,237.30L12.60,226.90L16.10,226.90L16.10,215.50Z" fill="#98d8fd" stroke="#1b5cb8" stroke-width="1.25" stroke-linejoin="miter"/></svg>
<div class="t" style="left:35.4px;top:136px;font-size:17.8px;color:#000;-webkit-text-stroke:0.62px #000;">5</div>
<div class="t" style="left:72.0px;top:136px;font-size:17.8px;color:#c00000;-webkit-text-stroke:0.62px #c00000;">10 kt</div>
<div class="t" style="left:60.8px;top:186px;font-size:17.8px;color:#fff;-webkit-text-stroke:0.62px #fff;transform:translateX(-50%);">0.1 - 0.5 m</div>
<div class="t" style="left:39.0px;top:219px;font-size:17.8px;color:#4a8ee4;-webkit-text-stroke:0.72px #4a8ee4;">39 cm/s</div>
</div>
<div class="card" style="left:291px"><div class="bg"></div>
<div class="t" style="left:60.6px;top:9px;font-size:17.8px;color:#000;-webkit-text-stroke:0.62px #000;transform:translateX(-50%);">13.00</div>
<div class="t" style="left:7.0px;top:37px;font-size:17.8px;color:#0000ff;-webkit-text-stroke:0.62px #0000ff;">27 °</div>
<div class="t" style="left:65.3px;top:37px;font-size:17.8px;color:#3d7a0c;-webkit-text-stroke:0.62px #3d7a0c;">84 %</div>
<svg style="left:30.3px;top:58.80000000000001px" width="54" height="40" viewBox="0 0 54 40"><g><path d="M11.1,34.7L2.8,51.4M16.7,38L1.8,67.2M23.1,40.2L14.8,56.9M31.9,38.9L17.1,67.2M42.1,33.8L30.1,56.9" fill="none" stroke="#7fb0b8" stroke-width="2.6" stroke-linecap="round"/><path d="M11.1,34.7L2.8,51.4M16.7,38L1.8,67.2M23.1,40.2L14.8,56.9M31.9,38.9L17.1,67.2M42.1,33.8L30.1,56.9" fill="none" stroke="#a9dbe2" stroke-width="1.6" stroke-linecap="round"/><g transform="translate(25.6,0.8) scale(0.69)"><g fill="#8aa5b8"><circle cx="23.1" cy="9.7" r="10.30"/><circle cx="33.5" cy="13.5" r="8.80"/><circle cx="40.5" cy="17.3" r="9.60"/><circle cx="44.7" cy="22.6" r="9.20"/><circle cx="36.0" cy="27.8" r="9.20"/><circle cx="24.8" cy="30.0" r="10.50"/><circle cx="12.6" cy="26.2" r="10.20"/><circle cx="8.9" cy="19.5" r="9.50"/><circle cx="12.5" cy="13.0" r="9.00"/><ellipse cx="26.6" cy="20.4" rx="24.20" ry="17.20"/></g><g fill="#a7c2d6"><circle cx="23.1" cy="9.7" r="9.60"/><circle cx="33.5" cy="13.5" r="8.10"/><circle cx="40.5" cy="17.3" r="8.90"/><circle cx="44.7" cy="22.6" r="8.50"/><circle cx="36.0" cy="27.8" r="8.50"/><circle cx="24.8" cy="30.0" r="9.80"/><circle cx="12.6" cy="26.2" r="9.50"/><circle cx="8.9" cy="19.5" r="8.80"/><circle cx="12.5" cy="13.0" r="8.30"/><ellipse cx="26.6" cy="20.4" rx="23.50" ry="16.50"/></g></g><g fill="#8a9399"><circle cx="23.1" cy="9.7" r="10.10"/><circle cx="33.5" cy="13.5" r="8.60"/><circle cx="40.5" cy="17.3" r="9.40"/><circle cx="44.7" cy="22.6" r="9.00"/><circle cx="36.0" cy="27.8" r="9.00"/><circle cx="24.8" cy="30.0" r="10.30"/><circle cx="12.6" cy="26.2" r="10.00"/><circle cx="8.9" cy="19.5" r="9.30"/><circle cx="12.5" cy="13.0" r="8.80"/><ellipse cx="26.6" cy="20.4" rx="24.00" ry="17.00"/></g><g fill="url(#gRn)"><circle cx="23.1" cy="9.7" r="9.45"/><circle cx="33.5" cy="13.5" r="7.95"/><circle cx="40.5" cy="17.3" r="8.75"/><circle cx="44.7" cy="22.6" r="8.35"/><circle cx="36.0" cy="27.8" r="8.35"/><circle cx="24.8" cy="30.0" r="9.65"/><circle cx="12.6" cy="26.2" r="9.35"/><circle cx="8.9" cy="19.5" r="8.65"/><circle cx="12.5" cy="13.0" r="8.15"/><ellipse cx="26.6" cy="20.4" rx="23.35" ry="16.35"/></g><ellipse cx="6.2" cy="16.5" rx="15.6" ry="10" fill="url(#gPf)"/></g></svg>
<svg style="left:0;top:0" width="118" height="245" viewBox="0 0 118 245"><path d="M5.00,132.60L27.60,143.60L5.00,154.60L11.40,143.60Z" fill="#000"/><rect x="62.55" y="135.89999999999998" width="1.9" height="17.4" fill="#3f84dc"/><path transform="translate(0.1,159) scale(1.0075,1)" d="M0,9.7 C14,18 24,22.5 35,22.5 C55,22.5 72,0.2 96,0.2 C104,0.2 112,2 118,4.3 L118,48 L0,48 Z" fill="#02b2fa"/><path d="M22.70,215.50L22.70,226.90L26.20,226.90L19.00,237.30L11.80,226.90L15.30,226.90L15.30,215.50Z" fill="#98d8fd" stroke="#1b5cb8" stroke-width="1.25" stroke-linejoin="miter"/></svg>
<div class="t" style="left:34.0px;top:136px;font-size:17.8px;color:#000;-webkit-text-stroke:0.62px #000;">15</div>
<div class="t" style="left:69.9px;top:136px;font-size:17.8px;color:#c00000;-webkit-text-stroke:0.62px #c00000;">21 kt</div>
<div class="t" style="left:60.8px;top:186px;font-size:17.8px;color:#fff;-webkit-text-stroke:0.62px #fff;transform:translateX(-50%);">0.1 - 0.5 m</div>
<div class="t" style="left:37.6px;top:219px;font-size:17.8px;color:#4a8ee4;-webkit-text-stroke:0.72px #4a8ee4;">73 cm/s</div>
</div>
<div class="card" style="left:419px"><div class="bg"></div>
<div class="t" style="left:60.6px;top:9px;font-size:17.8px;color:#000;-webkit-text-stroke:0.62px #000;transform:translateX(-50%);">16.00</div>
<div class="t" style="left:7.0px;top:37px;font-size:17.8px;color:#0000ff;-webkit-text-stroke:0.62px #0000ff;">28 °</div>
<div class="t" style="left:65.3px;top:37px;font-size:17.8px;color:#3d7a0c;-webkit-text-stroke:0.62px #3d7a0c;">81 %</div>
<svg style="left:30px;top:73px" width="54" height="40" viewBox="0 0 54 40"><g><ellipse cx="0" cy="16.5" rx="9" ry="10" fill="#fff" fill-opacity="0.72"/><ellipse cx="41" cy="9" rx="8" ry="7.6" fill="#fff" fill-opacity="0.72"/><ellipse cx="54.5" cy="16.5" rx="8.7" ry="10.5" fill="#fff" fill-opacity="0.72"/><g><g><g fill="url(#gClS)"><circle cx="23.1" cy="9.7" r="10.05"/><circle cx="33.5" cy="13.5" r="8.55"/><circle cx="40.5" cy="17.3" r="9.35"/><circle cx="44.7" cy="22.6" r="8.95"/><circle cx="36.0" cy="27.8" r="8.95"/><circle cx="24.8" cy="30.0" r="10.25"/><circle cx="12.6" cy="26.2" r="9.95"/><circle cx="8.9" cy="19.5" r="9.25"/><circle cx="12.5" cy="13.0" r="8.75"/><ellipse cx="26.6" cy="20.4" rx="23.95" ry="16.95"/></g><g fill="url(#gCl)"><circle cx="23.1" cy="9.7" r="9.50"/><circle cx="33.5" cy="13.5" r="8.00"/><circle cx="40.5" cy="17.3" r="8.80"/><circle cx="44.7" cy="22.6" r="8.40"/><circle cx="36.0" cy="27.8" r="8.40"/><circle cx="24.8" cy="30.0" r="9.70"/><circle cx="12.6" cy="26.2" r="9.40"/><circle cx="8.9" cy="19.5" r="8.70"/><circle cx="12.5" cy="13.0" r="8.20"/><ellipse cx="26.6" cy="20.4" rx="23.40" ry="16.40"/></g></g><g clip-path="url(#cpCl2)"><ellipse cx="10.6" cy="16.6" rx="11.6" ry="9.6" fill="#fff" fill-opacity="0.85"/></g></g></g></svg>
<svg style="left:0;top:0" width="118" height="245" viewBox="0 0 118 245"><path d="M5.62,139.92L29.38,131.72L21.18,155.48L17.92,143.18Z" fill="#000"/><rect x="61.35" y="135.89999999999998" width="1.9" height="17.4" fill="#3f84dc"/><path transform="translate(0.1,159) scale(1.0075,1)" d="M0,9.7 C14,18 24,22.5 35,22.5 C55,22.5 72,0.2 96,0.2 C104,0.2 112,2 118,4.3 L118,48 L0,48 Z" fill="#02b2fa"/><path d="M8.30,222.70L19.70,222.70L19.70,219.20L30.10,226.40L19.70,233.60L19.70,230.10L8.30,230.10Z" fill="#98d8fd" stroke="#1b5cb8" stroke-width="1.25" stroke-linejoin="miter"/></svg>
<div class="t" style="left:35.2px;top:136px;font-size:17.8px;color:#000;-webkit-text-stroke:0.62px #000;">13</div>
<div class="t" style="left:71.3px;top:136px;font-size:17.8px;color:#c00000;-webkit-text-stroke:0.62px #c00000;">18 kt</div>
<div class="t" style="left:60.8px;top:186px;font-size:17.8px;color:#fff;-webkit-text-stroke:0.62px #fff;transform:translateX(-50%);">0.1 - 0.5 m</div>
<div class="t" style="left:38.0px;top:219px;font-size:17.8px;color:#4a8ee4;-webkit-text-stroke:0.72px #4a8ee4;">54 cm/s</div>
</div>
<div class="card" style="left:547px"><div class="bg"></div>
<div class="t" style="left:60.6px;top:9px;font-size:17.8px;color:#000;-webkit-text-stroke:0.62px #000;transform:translateX(-50%);">19.00</div>
<div class="t" style="left:7.0px;top:37px;font-size:17.8px;color:#0000ff;-webkit-text-stroke:0.62px #0000ff;">28 °</div>
<div class="t" style="left:65.3px;top:37px;font-size:17.8px;color:#3d7a0c;-webkit-text-stroke:0.62px #3d7a0c;">79 %</div>
<svg style="left:30px;top:73px" width="54" height="40" viewBox="0 0 54 40"><g><ellipse cx="0" cy="16.5" rx="9" ry="10" fill="#fff" fill-opacity="0.72"/><ellipse cx="41" cy="9" rx="8" ry="7.6" fill="#fff" fill-opacity="0.72"/><ellipse cx="54.5" cy="16.5" rx="8.7" ry="10.5" fill="#fff" fill-opacity="0.72"/><g><g><g fill="url(#gClS)"><circle cx="23.1" cy="9.7" r="10.05"/><circle cx="33.5" cy="13.5" r="8.55"/><circle cx="40.5" cy="17.3" r="9.35"/><circle cx="44.7" cy="22.6" r="8.95"/><circle cx="36.0" cy="27.8" r="8.95"/><circle cx="24.8" cy="30.0" r="10.25"/><circle cx="12.6" cy="26.2" r="9.95"/><circle cx="8.9" cy="19.5" r="9.25"/><circle cx="12.5" cy="13.0" r="8.75"/><ellipse cx="26.6" cy="20.4" rx="23.95" ry="16.95"/></g><g fill="url(#gCl)"><circle cx="23.1" cy="9.7" r="9.50"/><circle cx="33.5" cy="13.5" r="8.00"/><circle cx="40.5" cy="17.3" r="8.80"/><circle cx="44.7" cy="22.6" r="8.40"/><circle cx="36.0" cy="27.8" r="8.40"/><circle cx="24.8" cy="30.0" r="9.70"/><circle cx="12.6" cy="26.2" r="9.40"/><circle cx="8.9" cy="19.5" r="8.70"/><circle cx="12.5" cy="13.0" r="8.20"/><ellipse cx="26.6" cy="20.4" rx="23.40" ry="16.40"/></g></g><g clip-path="url(#cpCl2)"><ellipse cx="10.6" cy="16.6" rx="11.6" ry="9.6" fill="#fff" fill-opacity="0.85"/></g></g></g></svg>
<svg style="left:0;top:0" width="118" height="245" viewBox="0 0 118 245"><path d="M5.30,132.60L27.90,143.60L5.30,154.60L11.70,143.60Z" fill="#000"/><rect x="63.55" y="135.89999999999998" width="1.9" height="17.4" fill="#3f84dc"/><path transform="translate(0.1,159) scale(1.0075,1)" d="M0,9.7 C14,18 24,22.5 35,22.5 C55,22.5 72,0.2 96,0.2 C104,0.2 112,2 118,4.3 L118,48 L0,48 Z" fill="#00a100"/><path d="M8.68,230.94L18.35,221.27L15.38,218.30L30.32,215.58L27.60,230.52L24.63,227.55L14.96,237.22Z" fill="#98d8fd" stroke="#1b5cb8" stroke-width="1.25" stroke-linejoin="miter"/></svg>
<div class="t" style="left:34.7px;top:136px;font-size:17.8px;color:#000;-webkit-text-stroke:0.62px #000;">15</div>
<div class="t" style="left:70.6px;top:136px;font-size:17.8px;color:#c00000;-webkit-text-stroke:0.62px #c00000;">21 kt</div>
<div class="t" style="left:60.8px;top:186px;font-size:17.8px;color:#fff;-webkit-text-stroke:0.62px #fff;transform:translateX(-50%);">0.5 - 1.25 m</div>
<div class="t" style="left:38.3px;top:219px;font-size:17.8px;color:#4a8ee4;-webkit-text-stroke:0.72px #4a8ee4;">79 cm/s</div>
</div>
<div class="card" style="left:675px"><div class="bg"></div>
<div class="t" style="left:60.6px;top:9px;font-size:17.8px;color:#000;-webkit-text-stroke:0.62px #000;transform:translateX(-50%);">22.00</div>
<div class="t" style="left:7.0px;top:37px;font-size:17.8px;color:#0000ff;-webkit-text-stroke:0.62px #0000ff;">27 °</div>
<div class="t" style="left:65.3px;top:37px;font-size:17.8px;color:#3d7a0c;-webkit-text-stroke:0.62px #3d7a0c;">84 %</div>
<svg style="left:30px;top:73px" width="54" height="40" viewBox="0 0 54 40"><g><ellipse cx="0" cy="16.5" rx="9" ry="10" fill="#fff" fill-opacity="0.72"/><ellipse cx="41" cy="9" rx="8" ry="7.6" fill="#fff" fill-opacity="0.72"/><ellipse cx="54.5" cy="16.5" rx="8.7" ry="10.5" fill="#fff" fill-opacity="0.72"/><g><g><g fill="url(#gClS)"><circle cx="23.1" cy="9.7" r="10.05"/><circle cx="33.5" cy="13.5" r="8.55"/><circle cx="40.5" cy="17.3" r="9.35"/><circle cx="44.7" cy="22.6" r="8.95"/><circle cx="36.0" cy="27.8" r="8.95"/><circle cx="24.8" cy="30.0" r="10.25"/><circle cx="12.6" cy="26.2" r="9.95"/><circle cx="8.9" cy="19.5" r="9.25"/><circle cx="12.5" cy="13.0" r="8.75"/><ellipse cx="26.6" cy="20.4" rx="23.95" ry="16.95"/></g><g fill="url(#gCl)"><circle cx="23.1" cy="9.7" r="9.50"/><circle cx="33.5" cy="13.5" r="8.00"/><circle cx="40.5" cy="17.3" r="8.80"/><circle cx="44.7" cy="22.6" r="8.40"/><circle cx="36.0" cy="27.8" r="8.40"/><circle cx="24.8" cy="30.0" r="9.70"/><circle cx="12.6" cy="26.2" r="9.40"/><circle cx="8.9" cy="19.5" r="8.70"/><circle cx="12.5" cy="13.0" r="8.20"/><ellipse cx="26.6" cy="20.4" rx="23.40" ry="16.40"/></g></g><g clip-path="url(#cpCl2)"><ellipse cx="10.6" cy="16.6" rx="11.6" ry="9.6" fill="#fff" fill-opacity="0.85"/></g></g></g></svg>
<svg style="left:0;top:0" width="118" height="245" viewBox="0 0 118 245"><path d="M4.70,132.60L27.30,143.60L4.70,154.60L11.10,143.60Z" fill="#000"/><rect x="56.65" y="135.89999999999998" width="1.9" height="17.4" fill="#3f84dc"/><path transform="translate(0.1,159) scale(1.0075,1)" d="M0,9.7 C14,18 24,22.5 35,22.5 C55,22.5 72,0.2 96,0.2 C104,0.2 112,2 118,4.3 L118,48 L0,48 Z" fill="#00a100"/><path d="M21.80,215.50L21.80,226.90L25.30,226.90L18.10,237.30L10.90,226.90L14.40,226.90L14.40,215.50Z" fill="#98d8fd" stroke="#1b5cb8" stroke-width="1.25" stroke-linejoin="miter"/></svg>
<div class="t" style="left:33.5px;top:136px;font-size:17.8px;color:#000;-webkit-text-stroke:0.62px #000;">15</div>
<div class="t" style="left:68.9px;top:136px;font-size:17.8px;color:#c00000;-webkit-text-stroke:0.62px #c00000;">20 kt</div>
<div class="t" style="left:60.8px;top:186px;font-size:17.8px;color:#fff;-webkit-text-stroke:0.62px #fff;transform:translateX(-50%);">0.5 - 1.25 m</div>
<div class="t" style="left:36.7px;top:219px;font-size:17.8px;color:#4a8ee4;-webkit-text-stroke:0.72px #4a8ee4;">42 cm/s</div>
</div>
<div class="card" style="left:803px"><div class="bg"></div>
<div class="t" style="left:60.6px;top:9px;font-size:17.8px;color:#000;-webkit-text-stroke:0.62px #000;transform:translateX(-50%);">01.00</div>
<div class="t" style="left:7.0px;top:37px;font-size:17.8px;color:#0000ff;-webkit-text-stroke:0.62px #0000ff;">26 °</div>
<div class="t" style="left:65.3px;top:37px;font-size:17.8px;color:#3d7a0c;-webkit-text-stroke:0.62px #3d7a0c;">89 %</div>
<svg style="left:30.3px;top:58.80000000000001px" width="54" height="40" viewBox="0 0 54 40"><g><path d="M11.1,34.7L2.8,51.4M16.7,38L1.8,67.2M23.1,40.2L14.8,56.9M31.9,38.9L17.1,67.2M42.1,33.8L30.1,56.9" fill="none" stroke="#7fb0b8" stroke-width="2.6" stroke-linecap="round"/><path d="M11.1,34.7L2.8,51.4M16.7,38L1.8,67.2M23.1,40.2L14.8,56.9M31.9,38.9L17.1,67.2M42.1,33.8L30.1,56.9" fill="none" stroke="#a9dbe2" stroke-width="1.6" stroke-linecap="round"/><g transform="translate(25.6,0.8) scale(0.69)"><g fill="#8aa5b8"><circle cx="23.1" cy="9.7" r="10.30"/><circle cx="33.5" cy="13.5" r="8.80"/><circle cx="40.5" cy="17.3" r="9.60"/><circle cx="44.7" cy="22.6" r="9.20"/><circle cx="36.0" cy="27.8" r="9.20"/><circle cx="24.8" cy="30.0" r="10.50"/><circle cx="12.6" cy="26.2" r="10.20"/><circle cx="8.9" cy="19.5" r="9.50"/><circle cx="12.5" cy="13.0" r="9.00"/><ellipse cx="26.6" cy="20.4" rx="24.20" ry="17.20"/></g><g fill="#a7c2d6"><circle cx="23.1" cy="9.7" r="9.60"/><circle cx="33.5" cy="13.5" r="8.10"/><circle cx="40.5" cy="17.3" r="8.90"/><circle cx="44.7" cy="22.6" r="8.50"/><circle cx="36.0" cy="27.8" r="8.50"/><circle cx="24.8" cy="30.0" r="9.80"/><circle cx="12.6" cy="26.2" r="9.50"/><circle cx="8.9" cy="19.5" r="8.80"/><circle cx="12.5" cy="13.0" r="8.30"/><ellipse cx="26.6" cy="20.4" rx="23.50" ry="16.50"/></g></g><g fill="#8a9399"><circle cx="23.1" cy="9.7" r="10.10"/><circle cx="33.5" cy="13.5" r="8.60"/><circle cx="40.5" cy="17.3" r="9.40"/><circle cx="44.7" cy="22.6" r="9.00"/><circle cx="36.0" cy="27.8" r="9.00"/><circle cx="24.8" cy="30.0" r="10.30"/><circle cx="12.6" cy="26.2" r="10.00"/><circle cx="8.9" cy="19.5" r="9.30"/><circle cx="12.5" cy="13.0" r="8.80"/><ellipse cx="26.6" cy="20.4" rx="24.00" ry="17.00"/></g><g fill="url(#gRn)"><circle cx="23.1" cy="9.7" r="9.45"/><circle cx="33.5" cy="13.5" r="7.95"/><circle cx="40.5" cy="17.3" r="8.75"/><circle cx="44.7" cy="22.6" r="8.35"/><circle cx="36.0" cy="27.8" r="8.35"/><circle cx="24.8" cy="30.0" r="9.65"/><circle cx="12.6" cy="26.2" r="9.35"/><circle cx="8.9" cy="19.5" r="8.65"/><circle cx="12.5" cy="13.0" r="8.15"/><ellipse cx="26.6" cy="20.4" rx="23.35" ry="16.35"/></g><ellipse cx="6.2" cy="16.5" rx="15.6" ry="10" fill="url(#gPf)"/></g></svg>
<svg style="left:0;top:0" width="118" height="245" viewBox="0 0 118 245"><path d="M4.50,132.60L27.10,143.60L4.50,154.60L10.90,143.60Z" fill="#000"/><rect x="61.85" y="135.89999999999998" width="1.9" height="17.4" fill="#3f84dc"/><path transform="translate(0.1,159) scale(1.0075,1)" d="M0,9.7 C14,18 24,22.5 35,22.5 C55,22.5 72,0.2 96,0.2 C104,0.2 112,2 118,4.3 L118,48 L0,48 Z" fill="#00a100"/><path d="M22.10,215.50L22.10,226.90L25.60,226.90L18.40,237.30L11.20,226.90L14.70,226.90L14.70,215.50Z" fill="#98d8fd" stroke="#1b5cb8" stroke-width="1.25" stroke-linejoin="miter"/></svg>
<div class="t" style="left:34.0px;top:136px;font-size:17.8px;color:#000;-webkit-text-stroke:0.62px #000;">13</div>
<div class="t" style="left:70.1px;top:136px;font-size:17.8px;color:#c00000;-webkit-text-stroke:0.62px #c00000;">19 kt</div>
<div class="t" style="left:60.8px;top:186px;font-size:17.8px;color:#fff;-webkit-text-stroke:0.62px #fff;transform:translateX(-50%);">0.5 - 1.25 m</div>
<div class="t" style="left:36.7px;top:219px;font-size:17.8px;color:#4a8ee4;-webkit-text-stroke:0.72px #4a8ee4;">64 cm/s</div>
</div>
<div class="card" style="left:931px"><div class="bg"></div>
<div class="t" style="left:60.6px;top:9px;font-size:17.8px;color:#000;-webkit-text-stroke:0.62px #000;transform:translateX(-50%);">04.00</div>
<div class="t" style="left:7.0px;top:37px;font-size:17.8px;color:#0000ff;-webkit-text-stroke:0.62px #0000ff;">25 °</div>
<div class="t" style="left:65.3px;top:37px;font-size:17.8px;color:#3d7a0c;-webkit-text-stroke:0.62px #3d7a0c;">91 %</div>
<svg style="left:30.3px;top:58.80000000000001px" width="54" height="40" viewBox="0 0 54 40"><g><path d="M11.1,34.7L2.8,51.4M16.7,38L1.8,67.2M23.1,40.2L14.8,56.9M31.9,38.9L17.1,67.2M42.1,33.8L30.1,56.9" fill="none" stroke="#7fb0b8" stroke-width="2.6" stroke-linecap="round"/><path d="M11.1,34.7L2.8,51.4M16.7,38L1.8,67.2M23.1,40.2L14.8,56.9M31.9,38.9L17.1,67.2M42.1,33.8L30.1,56.9" fill="none" stroke="#a9dbe2" stroke-width="1.6" stroke-linecap="round"/><g transform="translate(25.6,0.8) scale(0.69)"><g fill="#8aa5b8"><circle cx="23.1" cy="9.7" r="10.30"/><circle cx="33.5" cy="13.5" r="8.80"/><circle cx="40.5" cy="17.3" r="9.60"/><circle cx="44.7" cy="22.6" r="9.20"/><circle cx="36.0" cy="27.8" r="9.20"/><circle cx="24.8" cy="30.0" r="10.50"/><circle cx="12.6" cy="26.2" r="10.20"/><circle cx="8.9" cy="19.5" r="9.50"/><circle cx="12.5" cy="13.0" r="9.00"/><ellipse cx="26.6" cy="20.4" rx="24.20" ry="17.20"/></g><g fill="#a7c2d6"><circle cx="23.1" cy="9.7" r="9.60"/><circle cx="33.5" cy="13.5" r="8.10"/><circle cx="40.5" cy="17.3" r="8.90"/><circle cx="44.7" cy="22.6" r="8.50"/><circle cx="36.0" cy="27.8" r="8.50"/><circle cx="24.8" cy="30.0" r="9.80"/><circle cx="12.6" cy="26.2" r="9.50"/><circle cx="8.9" cy="19.5" r="8.80"/><circle cx="12.5" cy="13.0" r="8.30"/><ellipse cx="26.6" cy="20.4" rx="23.50" ry="16.50"/></g></g><g fill="#8a9399"><circle cx="23.1" cy="9.7" r="10.10"/><circle cx="33.5" cy="13.5" r="8.60"/><circle cx="40.5" cy="17.3" r="9.40"/><circle cx="44.7" cy="22.6" r="9.00"/><circle cx="36.0" cy="27.8" r="9.00"/><circle cx="24.8" cy="30.0" r="10.30"/><circle cx="12.6" cy="26.2" r="10.00"/><circle cx="8.9" cy="19.5" r="9.30"/><circle cx="12.5" cy="13.0" r="8.80"/><ellipse cx="26.6" cy="20.4" rx="24.00" ry="17.00"/></g><g fill="url(#gRn)"><circle cx="23.1" cy="9.7" r="9.45"/><circle cx="33.5" cy="13.5" r="7.95"/><circle cx="40.5" cy="17.3" r="8.75"/><circle cx="44.7" cy="22.6" r="8.35"/><circle cx="36.0" cy="27.8" r="8.35"/><circle cx="24.8" cy="30.0" r="9.65"/><circle cx="12.6" cy="26.2" r="9.35"/><circle cx="8.9" cy="19.5" r="8.65"/><circle cx="12.5" cy="13.0" r="8.15"/><ellipse cx="26.6" cy="20.4" rx="23.35" ry="16.35"/></g><ellipse cx="6.2" cy="16.5" rx="15.6" ry="10" fill="url(#gPf)"/></g></svg>
<svg style="left:0;top:0" width="118" height="245" viewBox="0 0 118 245"><path d="M5.80,132.60L28.40,143.60L5.80,154.60L12.20,143.60Z" fill="#000"/><rect x="62.55" y="135.89999999999998" width="1.9" height="17.4" fill="#3f84dc"/><path transform="translate(0.1,159) scale(1.0075,1)" d="M0,9.7 C14,18 24,22.5 35,22.5 C55,22.5 72,0.2 96,0.2 C104,0.2 112,2 118,4.3 L118,48 L0,48 Z" fill="#02b2fa"/><path d="M15.96,215.58L25.63,225.25L28.60,222.28L31.32,237.22L16.38,234.50L19.35,231.53L9.68,221.86Z" fill="#98d8fd" stroke="#1b5cb8" stroke-width="1.25" stroke-linejoin="miter"/></svg>
<div class="t" style="left:35.2px;top:136px;font-size:17.8px;color:#000;-webkit-text-stroke:0.62px #000;">12</div>
<div class="t" style="left:72.0px;top:136px;font-size:17.8px;color:#c00000;-webkit-text-stroke:0.62px #c00000;">19 kt</div>
<div class="t" style="left:60.8px;top:186px;font-size:17.8px;color:#fff;-webkit-text-stroke:0.62px #fff;transform:translateX(-50%);">0.1 - 0.5 m</div>
<div class="t" style="left:38.6px;top:219px;font-size:17.8px;color:#4a8ee4;-webkit-text-stroke:0.72px #4a8ee4;">46 cm/s</div>
</div>
<svg style="left:0;top:0" width="1080" height="1080" viewBox="0 0 1080 1080">
<path d="M74,573.5H1037.5" stroke="#e3e6ee" stroke-width="1"/>
<path d="M74,627.5H1037.5" stroke="#c9d2ee" stroke-width="1.2"/>
<path d="M83.2,627.5v9.5M124.3,627.5v9.5M165.4,627.5v9.5M206.5,627.5v9.5M247.6,627.5v9.5M288.7,627.5v9.5M329.8,627.5v9.5M370.9,627.5v9.5M412.0,627.5v9.5M453.1,627.5v9.5M494.2,627.5v9.5M535.3,627.5v9.5M576.5,627.5v9.5M617.6,627.5v9.5M658.7,627.5v9.5M699.8,627.5v9.5M740.9,627.5v9.5M782.0,627.5v9.5M823.1,627.5v9.5M864.2,627.5v9.5M905.3,627.5v9.5M946.4,627.5v9.5M987.5,627.5v9.5M1028.6,627.5v9.5" stroke="#c9d2ee" stroke-width="1"/>
<polyline points="82.8,608.3 123.9,608.3 165.0,605.3 206.1,607.2 247.2,599.2 288.3,596.1 329.4,586 370.5,591 411.6,586 452.7,588 493.8,591 534.9,592 576.1,596 617.2,598 658.3,600 699.4,601 740.5,601 781.6,601 822.7,601 863.8,602 904.9,603 946.0,604 987.1,605.5 1028.2,607" fill="none" stroke="#1ccbc0" stroke-width="2.2" stroke-linejoin="round"/>
<circle cx="82.8" cy="608.3" r="4" fill="#1ccbc0"/>
<circle cx="123.9" cy="608.3" r="4" fill="#1ccbc0"/>
<circle cx="165.0" cy="605.3" r="4" fill="#1ccbc0"/>
<circle cx="206.1" cy="607.2" r="4" fill="#1ccbc0"/>
<circle cx="247.2" cy="599.2" r="4" fill="#1ccbc0"/>
<circle cx="288.3" cy="596.1" r="4" fill="#1ccbc0"/>
<circle cx="329.4" cy="586" r="4" fill="#1ccbc0"/>
<circle cx="370.5" cy="591" r="4" fill="#1ccbc0"/>
<circle cx="411.6" cy="586" r="4" fill="#1ccbc0"/>
<circle cx="452.7" cy="588" r="4" fill="#1ccbc0"/>
<circle cx="493.8" cy="591" r="4" fill="#1ccbc0"/>
<circle cx="534.9" cy="592" r="4" fill="#1ccbc0"/>
<circle cx="576.1" cy="596" r="4" fill="#1ccbc0"/>
<circle cx="617.2" cy="598" r="4" fill="#1ccbc0"/>
<circle cx="658.3" cy="600" r="4" fill="#1ccbc0"/>
<circle cx="699.4" cy="601" r="4" fill="#1ccbc0"/>
<circle cx="740.5" cy="601" r="4" fill="#1ccbc0"/>
<circle cx="781.6" cy="601" r="4" fill="#1ccbc0"/>
<circle cx="822.7" cy="601" r="4" fill="#1ccbc0"/>
<circle cx="863.8" cy="602" r="4" fill="#1ccbc0"/>
<circle cx="904.9" cy="603" r="4" fill="#1ccbc0"/>
<circle cx="946.0" cy="604" r="4" fill="#1ccbc0"/>
<circle cx="987.1" cy="605.5" r="4" fill="#1ccbc0"/>
<circle cx="1028.2" cy="607" r="4" fill="#1ccbc0"/>
<path d="M468,674H485" stroke="#1ccbc0" stroke-width="2"/><circle cx="476.5" cy="674" r="3.4" fill="#1ccbc0"/>
</svg>
<div class="t" style="left:82.8px;top:592px;font-size:11px;color:#444;-webkit-text-stroke:0.3px #444;transform:translateX(-50%);">30.1</div>
<div class="t" style="left:82.8px;top:637px;font-size:11px;color:#666;transform:translateX(-50%);">00</div>
<div class="t" style="left:123.9px;top:592px;font-size:11px;color:#444;-webkit-text-stroke:0.3px #444;transform:translateX(-50%);">30.1</div>
<div class="t" style="left:123.9px;top:637px;font-size:11px;color:#666;transform:translateX(-50%);">01</div>
<div class="t" style="left:165.0px;top:589px;font-size:11px;color:#444;-webkit-text-stroke:0.3px #444;transform:translateX(-50%);">30.2</div>
<div class="t" style="left:165.0px;top:637px;font-size:11px;color:#666;transform:translateX(-50%);">02</div>
<div class="t" style="left:206.1px;top:591px;font-size:11px;color:#444;-webkit-text-stroke:0.3px #444;transform:translateX(-50%);">30.1</div>
<div class="t" style="left:206.1px;top:637px;font-size:11px;color:#666;transform:translateX(-50%);">03</div>
<div class="t" style="left:247.2px;top:583px;font-size:11px;color:#444;-webkit-text-stroke:0.3px #444;transform:translateX(-50%);">30.3</div>
<div class="t" style="left:247.2px;top:637px;font-size:11px;color:#666;transform:translateX(-50%);">04</div>
<div class="t" style="left:288.3px;top:580px;font-size:11px;color:#444;-webkit-text-stroke:0.3px #444;transform:translateX(-50%);">30.3</div>
<div class="t" style="left:288.3px;top:637px;font-size:11px;color:#666;transform:translateX(-50%);">05</div>
<div class="t" style="left:329.4px;top:570px;font-size:11px;color:#444;-webkit-text-stroke:0.3px #444;transform:translateX(-50%);">30.5</div>
<div class="t" style="left:329.4px;top:637px;font-size:11px;color:#666;transform:translateX(-50%);">06</div>
<div class="t" style="left:370.5px;top:575px;font-size:11px;color:#444;-webkit-text-stroke:0.3px #444;transform:translateX(-50%);">30.4</div>
<div class="t" style="left:370.5px;top:637px;font-size:11px;color:#666;transform:translateX(-50%);">07</div>
<div class="t" style="left:411.6px;top:570px;font-size:11px;color:#444;-webkit-text-stroke:0.3px #444;transform:translateX(-50%);">30.5</div>
<div class="t" style="left:411.6px;top:637px;font-size:11px;color:#666;transform:translateX(-50%);">08</div>
<div class="t" style="left:452.7px;top:572px;font-size:11px;color:#444;-webkit-text-stroke:0.3px #444;transform:translateX(-50%);">30.5</div>
<div class="t" style="left:452.7px;top:637px;font-size:11px;color:#666;transform:translateX(-50%);">09</div>
<div class="t" style="left:493.8px;top:575px;font-size:11px;color:#444;-webkit-text-stroke:0.3px #444;transform:translateX(-50%);">30.4</div>
<div class="t" style="left:493.8px;top:637px;font-size:11px;color:#666;transform:translateX(-50%);">10</div>
<div class="t" style="left:534.9px;top:576px;font-size:11px;color:#444;-webkit-text-stroke:0.3px #444;transform:translateX(-50%);">30.4</div>
<div class="t" style="left:534.9px;top:637px;font-size:11px;color:#666;transform:translateX(-50%);">11</div>
<div class="t" style="left:576.1px;top:580px;font-size:11px;color:#444;-webkit-text-stroke:0.3px #444;transform:translateX(-50%);">30.3</div>
<div class="t" style="left:576.1px;top:637px;font-size:11px;color:#666;transform:translateX(-50%);">12</div>
<div class="t" style="left:617.2px;top:582px;font-size:11px;color:#444;-webkit-text-stroke:0.3px #444;transform:translateX(-50%);">30.3</div>
<div class="t" style="left:617.2px;top:637px;font-size:11px;color:#666;transform:translateX(-50%);">13</div>
<div class="t" style="left:658.3px;top:584px;font-size:11px;color:#444;-webkit-text-stroke:0.3px #444;transform:translateX(-50%);">30.3</div>
<div class="t" style="left:658.3px;top:637px;font-size:11px;color:#666;transform:translateX(-50%);">14</div>
<div class="t" style="left:699.4px;top:585px;font-size:11px;color:#444;-webkit-text-stroke:0.3px #444;transform:translateX(-50%);">30.2</div>
<div class="t" style="left:699.4px;top:637px;font-size:11px;color:#666;transform:translateX(-50%);">15</div>
<div class="t" style="left:740.5px;top:585px;font-size:11px;color:#444;-webkit-text-stroke:0.3px #444;transform:translateX(-50%);">30.2</div>
<div class="t" style="left:740.5px;top:637px;font-size:11px;color:#666;transform:translateX(-50%);">16</div>
<div class="t" style="left:781.6px;top:585px;font-size:11px;color:#444;-webkit-text-stroke:0.3px #444;transform:translateX(-50%);">30.2</div>
<div class="t" style="left:781.6px;top:637px;font-size:11px;color:#666;transform:translateX(-50%);">17</div>
<div class="t" style="left:822.7px;top:585px;font-size:11px;color:#444;-webkit-text-stroke:0.3px #444;transform:translateX(-50%);">30.2</div>
<div class="t" style="left:822.7px;top:637px;font-size:11px;color:#666;transform:translateX(-50%);">18</div>
<div class="t" style="left:863.8px;top:586px;font-size:11px;color:#444;-webkit-text-stroke:0.3px #444;transform:translateX(-50%);">30.2</div>
<div class="t" style="left:863.8px;top:637px;font-size:11px;color:#666;transform:translateX(-50%);">19</div>
<div class="t" style="left:904.9px;top:587px;font-size:11px;color:#444;-webkit-text-stroke:0.3px #444;transform:translateX(-50%);">30.2</div>
<div class="t" style="left:904.9px;top:637px;font-size:11px;color:#666;transform:translateX(-50%);">20</div>
<div class="t" style="left:946.0px;top:588px;font-size:11px;color:#444;-webkit-text-stroke:0.3px #444;transform:translateX(-50%);">30.2</div>
<div class="t" style="left:946.0px;top:637px;font-size:11px;color:#666;transform:translateX(-50%);">21</div>
<div class="t" style="left:987.1px;top:589px;font-size:11px;color:#444;-webkit-text-stroke:0.3px #444;transform:translateX(-50%);">30.1</div>
<div class="t" style="left:987.1px;top:637px;font-size:11px;color:#666;transform:translateX(-50%);">22</div>
<div class="t" style="left:1028.2px;top:591px;font-size:11px;color:#444;-webkit-text-stroke:0.3px #444;transform:translateX(-50%);">30.1</div>
<div class="t" style="left:1028.2px;top:637px;font-size:11px;color:#666;transform:translateX(-50%);">23</div>
<div class="t" style="left:66.0px;top:568px;font-size:11px;color:#666;transform:translateX(-100%);">30.72</div>
<div class="t" style="left:66.0px;top:621px;font-size:11px;color:#666;transform:translateX(-100%);">29.76</div>
<div class="t" style="left:489.0px;top:668px;font-size:12px;color:#333;-webkit-text-stroke:0.3px #333;">Suhu Permukaan Laut</div>
<div class="panel" style="transform:translate(31.7px,685px)"></div>
<div class="t" style="left:56.7px;top:706px;font-size:18px;color:#0b4ea2;-webkit-text-stroke:0.6px #0b4ea2;">24 Februari 2026</div>
<svg style="left:94.3px;top:743.4px" width="54" height="40" viewBox="0 0 54 40"><g><ellipse cx="0" cy="16.5" rx="9" ry="10" fill="#fff" fill-opacity="0.72"/><ellipse cx="41" cy="9" rx="8" ry="7.6" fill="#fff" fill-opacity="0.72"/><ellipse cx="54.5" cy="16.5" rx="8.7" ry="10.5" fill="#fff" fill-opacity="0.72"/><g><g><g fill="url(#gClS)"><circle cx="23.1" cy="9.7" r="10.05"/><circle cx="33.5" cy="13.5" r="8.55"/><circle cx="40.5" cy="17.3" r="9.35"/><circle cx="44.7" cy="22.6" r="8.95"/><circle cx="36.0" cy="27.8" r="8.95"/><circle cx="24.8" cy="30.0" r="10.25"/><circle cx="12.6" cy="26.2" r="9.95"/><circle cx="8.9" cy="19.5" r="9.25"/><circle cx="12.5" cy="13.0" r="8.75"/><ellipse cx="26.6" cy="20.4" rx="23.95" ry="16.95"/></g><g fill="url(#gCl)"><circle cx="23.1" cy="9.7" r="9.50"/><circle cx="33.5" cy="13.5" r="8.00"/><circle cx="40.5" cy="17.3" r="8.80"/><circle cx="44.7" cy="22.6" r="8.40"/><circle cx="36.0" cy="27.8" r="8.40"/><circle cx="24.8" cy="30.0" r="9.70"/><circle cx="12.6" cy="26.2" r="9.40"/><circle cx="8.9" cy="19.5" r="8.70"/><circle cx="12.5" cy="13.0" r="8.20"/><ellipse cx="26.6" cy="20.4" rx="23.40" ry="16.40"/></g></g><g clip-path="url(#cpCl2)"><ellipse cx="10.6" cy="16.6" rx="11.6" ry="9.6" fill="#fff" fill-opacity="0.85"/></g></g></g></svg>
<div class="t" style="left:71.2px;top:802px;font-size:17.8px;color:#000;">Berawan tebal</div>
<div class="t" style="left:70.8px;top:825px;font-size:17.5px;color:#0000ff;-webkit-text-stroke:0.6px #0000ff;">26 °</div>
<div class="t" style="left:70.8px;top:849px;font-size:17.5px;color:#c00000;-webkit-text-stroke:0.6px #c00000;">28 °</div>
<div class="t" style="left:127.0px;top:833px;font-size:21.8px;color:#3d7a0c;-webkit-text-stroke:0.75px #3d7a0c;">82 %</div>
<svg style="left:71.0px;top:875.6px" width="19.2" height="17.6" viewBox="0 0 22.6 22"><path d="M0,0 L22.6,11 L0,22 L6.4,11Z" fill="#000"/></svg>
<div class="t" style="left:97.7px;top:876px;font-size:17.5px;color:#000;-webkit-text-stroke:0.45px #000;">12- 13 knot</div>
<div class="t" style="left:96.9px;top:903px;font-size:17.5px;color:#c00000;-webkit-text-stroke:0.6px #c00000;">19 kt</div>
<div class="t" style="left:254.0px;top:719px;font-size:18px;color:#0b4ea2;-webkit-text-stroke:0.6px #0b4ea2;">KONDISI LAUT</div>
<div class="t" style="left:252.3px;top:744px;font-size:16px;color:#000;">Suhu Permukaan Laut</div>
<div class="t" style="left:455.3px;top:744px;font-size:17.7px;color:#4b8fe1;-webkit-text-stroke:0.55px #4b8fe1;">30 °C</div>
<div class="t" style="left:253.7px;top:774px;font-size:16px;color:#000;">Arah Arus</div>
<svg style="left:453.1px;top:778.9px" width="24" height="24" viewBox="0 0 24 24"><g><path d="M0.6,7.6 H12.2 V3.3 L23.4,12 L12.2,20.7 V16.4 H0.6 Z" fill="#98d8fd" stroke="#1b5cb8" stroke-width="1.2" stroke-linejoin="miter"/></g></svg>
<div class="t" style="left:490.6px;top:780px;font-size:18px;color:#4b8fe1;-webkit-text-stroke:0.55px #4b8fe1;">E</div>
<div class="t" style="left:252.3px;top:805px;font-size:16px;color:#000;">Kecepatan Arus</div>
<div class="t" style="left:391.8px;top:826px;font-size:17.7px;color:#4b8fe1;-webkit-text-stroke:0.5px #4b8fe1;">37</div>
<div class="t" style="left:421.2px;top:823px;font-size:17.7px;color:#4b8fe1;-webkit-text-stroke:0.55px #4b8fe1;">- 77 cm/s</div>
<div class="t" style="left:254.2px;top:848px;font-size:16px;color:#000;">Tinggi Gelombang</div>
<svg style="left:382.7px;top:866.0px" width="119" height="48" viewBox="0 0 118 48"><path d="M0,9.7 C14,18 24,22.5 35,22.5 C55,22.5 72,0.2 96,0.2 C104,0.2 112,2 118,4.3 L118,48 L0,48 Z" fill="#00a100"/></svg>
<div class="t" style="left:443.6px;top:892px;font-size:17.8px;color:#fff;-webkit-text-stroke:0.45px #fff;transform:translateX(-50%);">0.5 - 1.25 m</div>
<div class="panel" style="transform:translate(550.9px,685px)"></div>
<div class="t" style="left:572.5px;top:701px;font-size:18px;color:#0b4ea2;-webkit-text-stroke:0.6px #0b4ea2;">25 Februari 2026</div>
<svg style="left:610.1px;top:738.2px" width="54" height="40" viewBox="0 0 54 40"><g><ellipse cx="0" cy="16.5" rx="9" ry="10" fill="#fff" fill-opacity="0.72"/><ellipse cx="41" cy="9" rx="8" ry="7.6" fill="#fff" fill-opacity="0.72"/><ellipse cx="54.5" cy="16.5" rx="8.7" ry="10.5" fill="#fff" fill-opacity="0.72"/><g><g><g fill="url(#gClS)"><circle cx="23.1" cy="9.7" r="10.05"/><circle cx="33.5" cy="13.5" r="8.55"/><circle cx="40.5" cy="17.3" r="9.35"/><circle cx="44.7" cy="22.6" r="8.95"/><circle cx="36.0" cy="27.8" r="8.95"/><circle cx="24.8" cy="30.0" r="10.25"/><circle cx="12.6" cy="26.2" r="9.95"/><circle cx="8.9" cy="19.5" r="9.25"/><circle cx="12.5" cy="13.0" r="8.75"/><ellipse cx="26.6" cy="20.4" rx="23.95" ry="16.95"/></g><g fill="url(#gCl)"><circle cx="23.1" cy="9.7" r="9.50"/><circle cx="33.5" cy="13.5" r="8.00"/><circle cx="40.5" cy="17.3" r="8.80"/><circle cx="44.7" cy="22.6" r="8.40"/><circle cx="36.0" cy="27.8" r="8.40"/><circle cx="24.8" cy="30.0" r="9.70"/><circle cx="12.6" cy="26.2" r="9.40"/><circle cx="8.9" cy="19.5" r="8.70"/><circle cx="12.5" cy="13.0" r="8.20"/><ellipse cx="26.6" cy="20.4" rx="23.40" ry="16.40"/></g></g><g clip-path="url(#cpCl2)"><ellipse cx="10.6" cy="16.6" rx="11.6" ry="9.6" fill="#fff" fill-opacity="0.85"/></g></g></g></svg>
<div class="t" style="left:587.0px;top:796px;font-size:17.8px;color:#000;">Berawan tebal</div>
<div class="t" style="left:586.6px;top:819px;font-size:17.5px;color:#0000ff;-webkit-text-stroke:0.6px #0000ff;">25 °</div>
<div class="t" style="left:586.6px;top:844px;font-size:17.5px;color:#c00000;-webkit-text-stroke:0.6px #c00000;">29 °</div>
<div class="t" style="left:642.8px;top:828px;font-size:21.8px;color:#3d7a0c;-webkit-text-stroke:0.75px #3d7a0c;">85 %</div>
<svg style="left:586.8px;top:870.4px" width="19.2" height="17.6" viewBox="0 0 22.6 22"><path d="M0,0 L22.6,11 L0,22 L6.4,11Z" fill="#000"/></svg>
<div class="t" style="left:613.8px;top:871px;font-size:17.5px;color:#000;-webkit-text-stroke:0.45px #000;">8</div>
<div class="t" style="left:632.4px;top:871px;font-size:17.5px;color:#000;-webkit-text-stroke:0.45px #000;">- 15 knot</div>
<div class="t" style="left:611.7px;top:898px;font-size:17.5px;color:#c00000;-webkit-text-stroke:0.6px #c00000;">28 kt</div>
<div class="t" style="left:769.8px;top:713px;font-size:18px;color:#0b4ea2;-webkit-text-stroke:0.6px #0b4ea2;">KONDISI LAUT</div>
<div class="t" style="left:768.1px;top:739px;font-size:16px;color:#000;">Suhu Permukaan Laut</div>
<div class="t" style="left:971.1px;top:738px;font-size:17.7px;color:#4b8fe1;-webkit-text-stroke:0.55px #4b8fe1;">30 °C</div>
<div class="t" style="left:769.5px;top:768px;font-size:16px;color:#000;">Arah Arus</div>
<svg style="left:968.9px;top:773.5px" width="24" height="24" viewBox="0 0 24 24"><g><path d="M0.6,7.6 H12.2 V3.3 L23.4,12 L12.2,20.7 V16.4 H0.6 Z" fill="#98d8fd" stroke="#1b5cb8" stroke-width="1.2" stroke-linejoin="miter"/></g></svg>
<div class="t" style="left:1006.4px;top:775px;font-size:18px;color:#4b8fe1;-webkit-text-stroke:0.55px #4b8fe1;">E</div>
<div class="t" style="left:768.1px;top:800px;font-size:16px;color:#000;">Kecepatan Arus</div>
<div class="t" style="left:910.1px;top:819px;font-size:17.7px;color:#4b8fe1;-webkit-text-stroke:0.55px #4b8fe1;">39 - 68 cm/s</div>
<div class="t" style="left:770.0px;top:842px;font-size:16px;color:#000;">Tinggi Gelombang</div>
<svg style="left:898.5px;top:861.0px" width="119" height="48" viewBox="0 0 118 48"><path d="M0,9.7 C14,18 24,22.5 35,22.5 C55,22.5 72,0.2 96,0.2 C104,0.2 112,2 118,4.3 L118,48 L0,48 Z" fill="#00a100"/></svg>
<div class="t" style="left:959.4px;top:886px;font-size:17.8px;color:#fff;-webkit-text-stroke:0.45px #fff;transform:translateX(-50%);">0.5 - 1.25 m</div>
<div class="abs" style="left:0;top:951.5px;width:33px;height:129px;background:#1e6db8"></div>
<div class="abs" style="left:33px;top:951.5px;width:1047px;height:129px;background:#1b3a73"></div>
<div class="abs" style="left:33px;top:982px;width:1060px;height:110px;background:#e3e6e9;border-radius:9px 0 0 0"></div>
<div class="t" style="left:15.6px;top:1016.2px;font-size:24.4px;font-weight:bold;font-style:italic;color:#fff;transform:translate(-50%,-50%) rotate(-90deg) scaleX(0.87);">LEGENDA</div>
<div class="t" style="left:35.0px;top:960px;font-size:14.05px;color:#fff;font-style:italic;">Dari Atas Kiri : Waktu, Suhu Udara, Kelembapan Udara, Kondisi Cuaca, Arah Angin, Kecepatan Angin, Kecepatan Gust, Tinggi Gelombang, Arah Arus, Kecepatan Arus</div>
<div class="abs" style="left:45.0px;top:988px;width:68.5px;height:68px;border:1px solid #484848;border-radius:11px"></div>
<div class="t" style="left:80.2px;top:1065px;font-size:12.2px;color:#111;transform:translateX(-50%);">Cerah</div>
<div class="abs" style="left:140.9px;top:988px;width:68.5px;height:68px;border:1px solid #484848;border-radius:11px"></div>
<div class="t" style="left:176.1px;top:1065px;font-size:12.2px;color:#111;transform:translateX(-50%);">Cerah Berawan</div>
<div class="abs" style="left:236.3px;top:988px;width:68.5px;height:68px;border:1px solid #484848;border-radius:11px"></div>
<div class="t" style="left:271.5px;top:1065px;font-size:12.2px;color:#111;transform:translateX(-50%);">Berawan</div>
<div class="abs" style="left:331.7px;top:988px;width:68.5px;height:68px;border:1px solid #484848;border-radius:11px"></div>
<div class="t" style="left:366.9px;top:1065px;font-size:12.2px;color:#111;transform:translateX(-50%);">Berawan Tebal</div>
<div class="abs" style="left:426.2px;top:988px;width:68.5px;height:68px;border:1px solid #484848;border-radius:11px"></div>
<div class="t" style="left:461.4px;top:1065px;font-size:12.2px;color:#111;transform:translateX(-50%);">Udara Kabur</div>
<div class="abs" style="left:521.4px;top:988px;width:68.5px;height:68px;border:1px solid #484848;border-radius:11px"></div>
<div class="t" style="left:556.6px;top:1065px;font-size:12.2px;color:#111;transform:translateX(-50%);">Petir</div>
<div class="abs" style="left:616.8px;top:988px;width:68.5px;height:68px;border:1px solid #484848;border-radius:11px"></div>
<div class="t" style="left:652.0px;top:1065px;font-size:12.2px;color:#111;transform:translateX(-50%);">Kabut</div>
<div class="abs" style="left:712.3px;top:988px;width:68.5px;height:68px;border:1px solid #484848;border-radius:11px"></div>
<div class="t" style="left:747.5px;top:1065px;font-size:12.2px;color:#111;transform:translateX(-50%);">Hujan Ringan</div>
<div class="abs" style="left:807.3px;top:988px;width:68.5px;height:68px;border:1px solid #484848;border-radius:11px"></div>
<div class="t" style="left:842.5px;top:1065px;font-size:12.2px;color:#111;transform:translateX(-50%);">Hujan Sedang</div>
<div class="abs" style="left:902.3px;top:988px;width:68.5px;height:68px;border:1px solid #484848;border-radius:11px"></div>
<div class="t" style="left:937.5px;top:1065px;font-size:12.2px;color:#111;transform:translateX(-50%);">Hujan Lebat</div>
<div class="abs" style="left:997.3px;top:988px;width:68.5px;height:68px;border:1px solid #484848;border-radius:11px"></div>
<div class="t" style="left:1032.5px;top:1065px;font-size:12.2px;color:#111;transform:translateX(-50%);">Hujan Petir</div>
<svg style="left:0;top:0" width="1080" height="1080" viewBox="0 0 1080 1080">
<g transform="translate(80.6,1023)"><g><path d="M14.50,1.50L22.50,0.00L14.50,-1.50ZM13.87,4.48L22.01,4.68L14.50,1.55ZM12.64,7.27L20.55,9.15L13.86,4.53ZM10.85,9.74L18.20,13.23L12.61,7.31ZM8.59,11.78L15.06,16.72L10.82,9.77ZM5.95,13.31L11.25,19.49L8.55,11.81ZM3.05,14.25L6.95,21.40L5.91,13.33ZM0.02,14.58L2.35,22.38L3.01,14.26ZM-3.01,14.26L-2.35,22.38L-0.02,14.58ZM-5.91,13.33L-6.95,21.40L-3.05,14.25ZM-8.55,11.81L-11.25,19.49L-5.95,13.31ZM-10.82,9.77L-15.06,16.72L-8.59,11.78ZM-12.61,7.31L-18.20,13.23L-10.85,9.74ZM-13.86,4.53L-20.55,9.15L-12.64,7.27ZM-14.50,1.55L-22.01,4.68L-13.87,4.48ZM-14.50,-1.50L-22.50,0.00L-14.50,1.50ZM-13.87,-4.48L-22.01,-4.68L-14.50,-1.55ZM-12.64,-7.27L-20.55,-9.15L-13.86,-4.53ZM-10.85,-9.74L-18.20,-13.23L-12.61,-7.31ZM-8.59,-11.78L-15.06,-16.72L-10.82,-9.77ZM-5.95,-13.31L-11.25,-19.49L-8.55,-11.81ZM-3.05,-14.25L-6.95,-21.40L-5.91,-13.33ZM-0.02,-14.58L-2.35,-22.38L-3.01,-14.26ZM3.01,-14.26L2.35,-22.38L0.02,-14.58ZM5.91,-13.33L6.95,-21.40L3.05,-14.25ZM8.55,-11.81L11.25,-19.49L5.95,-13.31ZM10.82,-9.77L15.06,-16.72L8.59,-11.78ZM12.61,-7.31L18.20,-13.23L10.85,-9.74ZM13.86,-4.53L20.55,-9.15L12.64,-7.27ZM14.50,-1.55L22.01,-4.68L13.87,-4.48Z" fill="#f7b31c"/><circle r="15.6" fill="url(#gSun)"/></g></g>
<g transform="translate(168.9,1017.6) scale(0.72)"><g><path d="M14.50,1.50L22.50,0.00L14.50,-1.50ZM13.87,4.48L22.01,4.68L14.50,1.55ZM12.64,7.27L20.55,9.15L13.86,4.53ZM10.85,9.74L18.20,13.23L12.61,7.31ZM8.59,11.78L15.06,16.72L10.82,9.77ZM5.95,13.31L11.25,19.49L8.55,11.81ZM3.05,14.25L6.95,21.40L5.91,13.33ZM0.02,14.58L2.35,22.38L3.01,14.26ZM-3.01,14.26L-2.35,22.38L-0.02,14.58ZM-5.91,13.33L-6.95,21.40L-3.05,14.25ZM-8.55,11.81L-11.25,19.49L-5.95,13.31ZM-10.82,9.77L-15.06,16.72L-8.59,11.78ZM-12.61,7.31L-18.20,13.23L-10.85,9.74ZM-13.86,4.53L-20.55,9.15L-12.64,7.27ZM-14.50,1.55L-22.01,4.68L-13.87,4.48ZM-14.50,-1.50L-22.50,0.00L-14.50,1.50ZM-13.87,-4.48L-22.01,-4.68L-14.50,-1.55ZM-12.64,-7.27L-20.55,-9.15L-13.86,-4.53ZM-10.85,-9.74L-18.20,-13.23L-12.61,-7.31ZM-8.59,-11.78L-15.06,-16.72L-10.82,-9.77ZM-5.95,-13.31L-11.25,-19.49L-8.55,-11.81ZM-3.05,-14.25L-6.95,-21.40L-5.91,-13.33ZM-0.02,-14.58L-2.35,-22.38L-3.01,-14.26ZM3.01,-14.26L2.35,-22.38L0.02,-14.58ZM5.91,-13.33L6.95,-21.40L3.05,-14.25ZM8.55,-11.81L11.25,-19.49L5.95,-13.31ZM10.82,-9.77L15.06,-16.72L8.59,-11.78ZM12.61,-7.31L18.20,-13.23L10.85,-9.74ZM13.86,-4.53L20.55,-9.15L12.64,-7.27ZM14.50,-1.55L22.01,-4.68L13.87,-4.48Z" fill="#f7b31c"/><circle r="15.6" fill="url(#gSun)"/></g></g>
<path d="M159.8,1031 C159.5,1022 168,1016 178,1016.3 C186,1016.5 190,1019.5 193,1021.5 C197,1023.5 199.8,1027 199.5,1031 C199,1037 191,1042.5 180,1042.2 C168,1042 160,1038 159.8,1031 Z" fill="url(#gCl2)" stroke="url(#gClS2)" stroke-width="0.6"/>
<g transform="translate(250.6,1013.7) scale(0.725)"><g><g transform="translate(24.2,5.6) scale(0.9)" clip-path="url(#cpSunTop)"><g><path d="M14.50,1.50L22.50,0.00L14.50,-1.50ZM13.87,4.48L22.01,4.68L14.50,1.55ZM12.64,7.27L20.55,9.15L13.86,4.53ZM10.85,9.74L18.20,13.23L12.61,7.31ZM8.59,11.78L15.06,16.72L10.82,9.77ZM5.95,13.31L11.25,19.49L8.55,11.81ZM3.05,14.25L6.95,21.40L5.91,13.33ZM0.02,14.58L2.35,22.38L3.01,14.26ZM-3.01,14.26L-2.35,22.38L-0.02,14.58ZM-5.91,13.33L-6.95,21.40L-3.05,14.25ZM-8.55,11.81L-11.25,19.49L-5.95,13.31ZM-10.82,9.77L-15.06,16.72L-8.59,11.78ZM-12.61,7.31L-18.20,13.23L-10.85,9.74ZM-13.86,4.53L-20.55,9.15L-12.64,7.27ZM-14.50,1.55L-22.01,4.68L-13.87,4.48ZM-14.50,-1.50L-22.50,0.00L-14.50,1.50ZM-13.87,-4.48L-22.01,-4.68L-14.50,-1.55ZM-12.64,-7.27L-20.55,-9.15L-13.86,-4.53ZM-10.85,-9.74L-18.20,-13.23L-12.61,-7.31ZM-8.59,-11.78L-15.06,-16.72L-10.82,-9.77ZM-5.95,-13.31L-11.25,-19.49L-8.55,-11.81ZM-3.05,-14.25L-6.95,-21.40L-5.91,-13.33ZM-0.02,-14.58L-2.35,-22.38L-3.01,-14.26ZM3.01,-14.26L2.35,-22.38L0.02,-14.58ZM5.91,-13.33L6.95,-21.40L3.05,-14.25ZM8.55,-11.81L11.25,-19.49L5.95,-13.31ZM10.82,-9.77L15.06,-16.72L8.59,-11.78ZM12.61,-7.31L18.20,-13.23L10.85,-9.74ZM13.86,-4.53L20.55,-9.15L12.64,-7.27ZM14.50,-1.55L22.01,-4.68L13.87,-4.48Z" fill="#f7b31c"/><circle r="15.6" fill="url(#gSun)"/></g></g><ellipse cx="1" cy="9.2" rx="9" ry="8.6" fill="#fff" fill-opacity="0.8"/><ellipse cx="52.5" cy="20" rx="11.2" ry="14.3" fill="#fff" fill-opacity="0.8"/><ellipse cx="40" cy="10" rx="9" ry="6" fill="#fff" fill-opacity="0.7"/><g><g fill="url(#gClS)"><circle cx="23.1" cy="9.7" r="10.05"/><circle cx="33.5" cy="13.5" r="8.55"/><circle cx="40.5" cy="17.3" r="9.35"/><circle cx="44.7" cy="22.6" r="8.95"/><circle cx="36.0" cy="27.8" r="8.95"/><circle cx="24.8" cy="30.0" r="10.25"/><circle cx="12.6" cy="26.2" r="9.95"/><circle cx="8.9" cy="19.5" r="9.25"/><circle cx="12.5" cy="13.0" r="8.75"/><ellipse cx="26.6" cy="20.4" rx="23.95" ry="16.95"/></g><g fill="url(#gCl)"><circle cx="23.1" cy="9.7" r="9.50"/><circle cx="33.5" cy="13.5" r="8.00"/><circle cx="40.5" cy="17.3" r="8.80"/><circle cx="44.7" cy="22.6" r="8.40"/><circle cx="36.0" cy="27.8" r="8.40"/><circle cx="24.8" cy="30.0" r="9.70"/><circle cx="12.6" cy="26.2" r="9.40"/><circle cx="8.9" cy="19.5" r="8.70"/><circle cx="12.5" cy="13.0" r="8.20"/><ellipse cx="26.6" cy="20.4" rx="23.40" ry="16.40"/></g></g><g clip-path="url(#cpCl2)"><ellipse cx="12.2" cy="11.7" rx="11" ry="7.4" fill="#fff" fill-opacity="0.85" transform="rotate(-8 12.2 11.7)"/></g></g></g>
<g transform="translate(346.5,1008.5) scale(0.725)"><g><ellipse cx="0" cy="16.5" rx="9" ry="10" fill="#fff" fill-opacity="0.72"/><ellipse cx="41" cy="9" rx="8" ry="7.6" fill="#fff" fill-opacity="0.72"/><ellipse cx="54.5" cy="16.5" rx="8.7" ry="10.5" fill="#fff" fill-opacity="0.72"/><g><g><g fill="url(#gClS)"><circle cx="23.1" cy="9.7" r="10.05"/><circle cx="33.5" cy="13.5" r="8.55"/><circle cx="40.5" cy="17.3" r="9.35"/><circle cx="44.7" cy="22.6" r="8.95"/><circle cx="36.0" cy="27.8" r="8.95"/><circle cx="24.8" cy="30.0" r="10.25"/><circle cx="12.6" cy="26.2" r="9.95"/><circle cx="8.9" cy="19.5" r="9.25"/><circle cx="12.5" cy="13.0" r="8.75"/><ellipse cx="26.6" cy="20.4" rx="23.95" ry="16.95"/></g><g fill="url(#gCl)"><circle cx="23.1" cy="9.7" r="9.50"/><circle cx="33.5" cy="13.5" r="8.00"/><circle cx="40.5" cy="17.3" r="8.80"/><circle cx="44.7" cy="22.6" r="8.40"/><circle cx="36.0" cy="27.8" r="8.40"/><circle cx="24.8" cy="30.0" r="9.70"/><circle cx="12.6" cy="26.2" r="9.40"/><circle cx="8.9" cy="19.5" r="8.70"/><circle cx="12.5" cy="13.0" r="8.20"/><ellipse cx="26.6" cy="20.4" rx="23.40" ry="16.40"/></g></g><g clip-path="url(#cpCl2)"><ellipse cx="10.6" cy="16.6" rx="11.6" ry="9.6" fill="#fff" fill-opacity="0.85"/></g></g></g></g>
<g transform="translate(461,1023) scale(0.72)"><g><path d="M14.50,1.50L22.50,0.00L14.50,-1.50ZM13.87,4.48L22.01,4.68L14.50,1.55ZM12.64,7.27L20.55,9.15L13.86,4.53ZM10.85,9.74L18.20,13.23L12.61,7.31ZM8.59,11.78L15.06,16.72L10.82,9.77ZM5.95,13.31L11.25,19.49L8.55,11.81ZM3.05,14.25L6.95,21.40L5.91,13.33ZM0.02,14.58L2.35,22.38L3.01,14.26ZM-3.01,14.26L-2.35,22.38L-0.02,14.58ZM-5.91,13.33L-6.95,21.40L-3.05,14.25ZM-8.55,11.81L-11.25,19.49L-5.95,13.31ZM-10.82,9.77L-15.06,16.72L-8.59,11.78ZM-12.61,7.31L-18.20,13.23L-10.85,9.74ZM-13.86,4.53L-20.55,9.15L-12.64,7.27ZM-14.50,1.55L-22.01,4.68L-13.87,4.48ZM-14.50,-1.50L-22.50,0.00L-14.50,1.50ZM-13.87,-4.48L-22.01,-4.68L-14.50,-1.55ZM-12.64,-7.27L-20.55,-9.15L-13.86,-4.53ZM-10.85,-9.74L-18.20,-13.23L-12.61,-7.31ZM-8.59,-11.78L-15.06,-16.72L-10.82,-9.77ZM-5.95,-13.31L-11.25,-19.49L-8.55,-11.81ZM-3.05,-14.25L-6.95,-21.40L-5.91,-13.33ZM-0.02,-14.58L-2.35,-22.38L-3.01,-14.26ZM3.01,-14.26L2.35,-22.38L0.02,-14.58ZM5.91,-13.33L6.95,-21.40L3.05,-14.25ZM8.55,-11.81L11.25,-19.49L5.95,-13.31ZM10.82,-9.77L15.06,-16.72L8.59,-11.78ZM12.61,-7.31L18.20,-13.23L10.85,-9.74ZM13.86,-4.53L20.55,-9.15L12.64,-7.27ZM14.50,-1.55L22.01,-4.68L13.87,-4.48Z" fill="#f7b31c"/><circle r="15.6" fill="url(#gSun)"/></g></g>
<defs><radialGradient id="gHz"><stop offset="0" stop-color="#fff" stop-opacity="1"/><stop offset="0.55" stop-color="#fff" stop-opacity="0.95"/><stop offset="1" stop-color="#fff" stop-opacity="0"/></radialGradient><radialGradient id="gFg"><stop offset="0" stop-color="#b9b9b9" stop-opacity="1"/><stop offset="0.6" stop-color="#c4c4c4" stop-opacity="0.9"/><stop offset="1" stop-color="#d0d0d0" stop-opacity="0"/></radialGradient></defs>
<ellipse cx="455" cy="1021" rx="27" ry="5" fill="url(#gHz)"/><ellipse cx="470" cy="1028" rx="27" ry="4.5" fill="url(#gHz)"/><ellipse cx="461" cy="1024" rx="17" ry="8" fill="url(#gHz)"/>
<path d="M559,998.8 L543.7,1021.6 H555 L551,1045.8 L571.1,1014.9 H558.5 Z" fill="url(#gBolt)"/>
<g transform="translate(656,1016) scale(0.62)" opacity="0.5"><g><path d="M14.50,1.50L22.50,0.00L14.50,-1.50ZM13.87,4.48L22.01,4.68L14.50,1.55ZM12.64,7.27L20.55,9.15L13.86,4.53ZM10.85,9.74L18.20,13.23L12.61,7.31ZM8.59,11.78L15.06,16.72L10.82,9.77ZM5.95,13.31L11.25,19.49L8.55,11.81ZM3.05,14.25L6.95,21.40L5.91,13.33ZM0.02,14.58L2.35,22.38L3.01,14.26ZM-3.01,14.26L-2.35,22.38L-0.02,14.58ZM-5.91,13.33L-6.95,21.40L-3.05,14.25ZM-8.55,11.81L-11.25,19.49L-5.95,13.31ZM-10.82,9.77L-15.06,16.72L-8.59,11.78ZM-12.61,7.31L-18.20,13.23L-10.85,9.74ZM-13.86,4.53L-20.55,9.15L-12.64,7.27ZM-14.50,1.55L-22.01,4.68L-13.87,4.48ZM-14.50,-1.50L-22.50,0.00L-14.50,1.50ZM-13.87,-4.48L-22.01,-4.68L-14.50,-1.55ZM-12.64,-7.27L-20.55,-9.15L-13.86,-4.53ZM-10.85,-9.74L-18.20,-13.23L-12.61,-7.31ZM-8.59,-11.78L-15.06,-16.72L-10.82,-9.77ZM-5.95,-13.31L-11.25,-19.49L-8.55,-11.81ZM-3.05,-14.25L-6.95,-21.40L-5.91,-13.33ZM-0.02,-14.58L-2.35,-22.38L-3.01,-14.26ZM3.01,-14.26L2.35,-22.38L0.02,-14.58ZM5.91,-13.33L6.95,-21.40L3.05,-14.25ZM8.55,-11.81L11.25,-19.49L5.95,-13.31ZM10.82,-9.77L15.06,-16.72L8.59,-11.78ZM12.61,-7.31L18.20,-13.23L10.85,-9.74ZM13.86,-4.53L20.55,-9.15L12.64,-7.27ZM14.50,-1.55L22.01,-4.68L13.87,-4.48Z" fill="#f7b31c"/><circle r="15.6" fill="url(#gSun)"/></g></g><ellipse cx="657" cy="1010" rx="13" ry="7.5" fill="url(#gHz)"/>
<ellipse cx="655" cy="1007" rx="30" ry="5" fill="url(#gHz)"/><ellipse cx="668" cy="1014" rx="24" ry="4.5" fill="url(#gHz)"/><ellipse cx="660" cy="1021" rx="38" ry="5" fill="url(#gHz)"/><ellipse cx="645" cy="1019" rx="26" ry="6" fill="url(#gFg)"/><ellipse cx="652" cy="1026" rx="24" ry="7" fill="url(#gFg)"/><ellipse cx="650" cy="1033" rx="22" ry="4.5" fill="url(#gFg)"/>
<g transform="translate(727.5,998) scale(0.715)"><g><path d="M11.1,34.7L2.8,51.4M16.7,38L1.8,67.2M23.1,40.2L14.8,56.9M31.9,38.9L17.1,67.2M42.1,33.8L30.1,56.9" fill="none" stroke="#7fb0b8" stroke-width="2.6" stroke-linecap="round"/><path d="M11.1,34.7L2.8,51.4M16.7,38L1.8,67.2M23.1,40.2L14.8,56.9M31.9,38.9L17.1,67.2M42.1,33.8L30.1,56.9" fill="none" stroke="#a9dbe2" stroke-width="1.6" stroke-linecap="round"/><g transform="translate(25.6,0.8) scale(0.69)"><g fill="#8aa5b8"><circle cx="23.1" cy="9.7" r="10.30"/><circle cx="33.5" cy="13.5" r="8.80"/><circle cx="40.5" cy="17.3" r="9.60"/><circle cx="44.7" cy="22.6" r="9.20"/><circle cx="36.0" cy="27.8" r="9.20"/><circle cx="24.8" cy="30.0" r="10.50"/><circle cx="12.6" cy="26.2" r="10.20"/><circle cx="8.9" cy="19.5" r="9.50"/><circle cx="12.5" cy="13.0" r="9.00"/><ellipse cx="26.6" cy="20.4" rx="24.20" ry="17.20"/></g><g fill="#a7c2d6"><circle cx="23.1" cy="9.7" r="9.60"/><circle cx="33.5" cy="13.5" r="8.10"/><circle cx="40.5" cy="17.3" r="8.90"/><circle cx="44.7" cy="22.6" r="8.50"/><circle cx="36.0" cy="27.8" r="8.50"/><circle cx="24.8" cy="30.0" r="9.80"/><circle cx="12.6" cy="26.2" r="9.50"/><circle cx="8.9" cy="19.5" r="8.80"/><circle cx="12.5" cy="13.0" r="8.30"/><ellipse cx="26.6" cy="20.4" rx="23.50" ry="16.50"/></g></g><g fill="#8a9399"><circle cx="23.1" cy="9.7" r="10.10"/><circle cx="33.5" cy="13.5" r="8.60"/><circle cx="40.5" cy="17.3" r="9.40"/><circle cx="44.7" cy="22.6" r="9.00"/><circle cx="36.0" cy="27.8" r="9.00"/><circle cx="24.8" cy="30.0" r="10.30"/><circle cx="12.6" cy="26.2" r="10.00"/><circle cx="8.9" cy="19.5" r="9.30"/><circle cx="12.5" cy="13.0" r="8.80"/><ellipse cx="26.6" cy="20.4" rx="24.00" ry="17.00"/></g><g fill="url(#gRn)"><circle cx="23.1" cy="9.7" r="9.45"/><circle cx="33.5" cy="13.5" r="7.95"/><circle cx="40.5" cy="17.3" r="8.75"/><circle cx="44.7" cy="22.6" r="8.35"/><circle cx="36.0" cy="27.8" r="8.35"/><circle cx="24.8" cy="30.0" r="9.65"/><circle cx="12.6" cy="26.2" r="9.35"/><circle cx="8.9" cy="19.5" r="8.65"/><circle cx="12.5" cy="13.0" r="8.15"/><ellipse cx="26.6" cy="20.4" rx="23.35" ry="16.35"/></g><ellipse cx="6.2" cy="16.5" rx="15.6" ry="10" fill="url(#gPf)"/></g></g>
<g transform="translate(848,996.5) scale(0.42)"><path d="M13.4,4.6 C16,0.6 22,-0.6 27,0.4 C31,1.2 33.4,3.8 35.4,6 C40,7.4 44,10 47,13 C51,15 53.6,18.5 53.3,22.5 C53,27 50,30.5 45,32 C43,35 40,36.5 37,36.6 C34,39 29,40.3 25,39.9 C21,39.5 18,38 16,36.4 C12,36 8,34.5 5,32 C1.5,29 0,25 0,21.5 C0,16 1,12 4,9 C7,6.3 10,5 13.4,4.6 Z" fill="#b7d9ec" stroke="#9fc3d6" stroke-width="1"/></g>
<g transform="translate(814.2,1001.5) scale(0.42)"><path d="M13.4,4.6 C16,0.6 22,-0.6 27,0.4 C31,1.2 33.4,3.8 35.4,6 C40,7.4 44,10 47,13 C51,15 53.6,18.5 53.3,22.5 C53,27 50,30.5 45,32 C43,35 40,36.5 37,36.6 C34,39 29,40.3 25,39.9 C21,39.5 18,38 16,36.4 C12,36 8,34.5 5,32 C1.5,29 0,25 0,21.5 C0,16 1,12 4,9 C7,6.3 10,5 13.4,4.6 Z" fill="#a6bcc2" stroke="#94aab0" stroke-width="1"/></g>
<g transform="translate(824.2,995.8) scale(0.71)"><path d="M13.4,4.6 C16,0.6 22,-0.6 27,0.4 C31,1.2 33.4,3.8 35.4,6 C40,7.4 44,10 47,13 C51,15 53.6,18.5 53.3,22.5 C53,27 50,30.5 45,32 C43,35 40,36.5 37,36.6 C34,39 29,40.3 25,39.9 C21,39.5 18,38 16,36.4 C12,36 8,34.5 5,32 C1.5,29 0,25 0,21.5 C0,16 1,12 4,9 C7,6.3 10,5 13.4,4.6 Z" fill="#93a9af" fill-opacity="0.93" stroke="#7e9298" stroke-width="0.8"/></g>
<path d="M838.3,1005.8L822.5,1038.3M837.5,1017.5L821.7,1049.2M846.7,1010.0L830.8,1041.7M848.3,1017.5L832.5,1049.2M857.5,1010.0L841.7,1041.7" stroke="#3f7cad" stroke-width="1.7" stroke-linecap="round" fill="none"/>
<path d="M927.5,1023.3L920.8,1035.8M932.5,1024.2L920.0,1048.0M935.8,1026.7L929.2,1040.0M943.3,1025.0L930.8,1048.0M950.0,1020.8L940.3,1040.0" stroke="#2b4a6b" stroke-width="1.7" stroke-linecap="round" fill="none"/>
<g transform="translate(941.5,998.5) scale(0.43)"><path d="M13.4,4.6 C16,0.6 22,-0.6 27,0.4 C31,1.2 33.4,3.8 35.4,6 C40,7.4 44,10 47,13 C51,15 53.6,18.5 53.3,22.5 C53,27 50,30.5 45,32 C43,35 40,36.5 37,36.6 C34,39 29,40.3 25,39.9 C21,39.5 18,38 16,36.4 C12,36 8,34.5 5,32 C1.5,29 0,25 0,21.5 C0,16 1,12 4,9 C7,6.3 10,5 13.4,4.6 Z" fill="#3d4b51"/></g>
<g transform="translate(910,1003) scale(0.43)"><path d="M13.4,4.6 C16,0.6 22,-0.6 27,0.4 C31,1.2 33.4,3.8 35.4,6 C40,7.4 44,10 47,13 C51,15 53.6,18.5 53.3,22.5 C53,27 50,30.5 45,32 C43,35 40,36.5 37,36.6 C34,39 29,40.3 25,39.9 C21,39.5 18,38 16,36.4 C12,36 8,34.5 5,32 C1.5,29 0,25 0,21.5 C0,16 1,12 4,9 C7,6.3 10,5 13.4,4.6 Z" fill="#2b2e31"/></g>
<g transform="translate(918.3,997) scale(0.73)"><path d="M13.4,4.6 C16,0.6 22,-0.6 27,0.4 C31,1.2 33.4,3.8 35.4,6 C40,7.4 44,10 47,13 C51,15 53.6,18.5 53.3,22.5 C53,27 50,30.5 45,32 C43,35 40,36.5 37,36.6 C34,39 29,40.3 25,39.9 C21,39.5 18,38 16,36.4 C12,36 8,34.5 5,32 C1.5,29 0,25 0,21.5 C0,16 1,12 4,9 C7,6.3 10,5 13.4,4.6 Z" fill="url(#gDk)"/></g>
<path d="M1022.5,1023.3L1015.8,1035.8M1027.5,1024.2L1015.0,1048.0M1030.8,1026.7L1024.2,1040.0M1038.3,1025.0L1025.8,1048.0M1045.0,1020.8L1035.3,1040.0" stroke="#2b4a6b" stroke-width="1.7" stroke-linecap="round" fill="none"/>
<g transform="translate(1036.5,998.5) scale(0.43)"><path d="M13.4,4.6 C16,0.6 22,-0.6 27,0.4 C31,1.2 33.4,3.8 35.4,6 C40,7.4 44,10 47,13 C51,15 53.6,18.5 53.3,22.5 C53,27 50,30.5 45,32 C43,35 40,36.5 37,36.6 C34,39 29,40.3 25,39.9 C21,39.5 18,38 16,36.4 C12,36 8,34.5 5,32 C1.5,29 0,25 0,21.5 C0,16 1,12 4,9 C7,6.3 10,5 13.4,4.6 Z" fill="#3d4b51"/></g>
<g transform="translate(1005,1003) scale(0.43)"><path d="M13.4,4.6 C16,0.6 22,-0.6 27,0.4 C31,1.2 33.4,3.8 35.4,6 C40,7.4 44,10 47,13 C51,15 53.6,18.5 53.3,22.5 C53,27 50,30.5 45,32 C43,35 40,36.5 37,36.6 C34,39 29,40.3 25,39.9 C21,39.5 18,38 16,36.4 C12,36 8,34.5 5,32 C1.5,29 0,25 0,21.5 C0,16 1,12 4,9 C7,6.3 10,5 13.4,4.6 Z" fill="#2b2e31"/></g>
<g transform="translate(1013.3,997) scale(0.73)"><path d="M13.4,4.6 C16,0.6 22,-0.6 27,0.4 C31,1.2 33.4,3.8 35.4,6 C40,7.4 44,10 47,13 C51,15 53.6,18.5 53.3,22.5 C53,27 50,30.5 45,32 C43,35 40,36.5 37,36.6 C34,39 29,40.3 25,39.9 C21,39.5 18,38 16,36.4 C12,36 8,34.5 5,32 C1.5,29 0,25 0,21.5 C0,16 1,12 4,9 C7,6.3 10,5 13.4,4.6 Z" fill="url(#gDk)"/></g>
<path d="M1013.5,1018 C1016.5,1022 1015.5,1024 1013.5,1024 C1011.5,1024 1010.5,1022 1013.5,1018Z" fill="#3a6f9a"/>
<path d="M1018,1026 C1021,1030 1020,1032 1018,1032 C1016,1032 1015,1030 1018,1026Z" fill="#3a6f9a"/>
<path d="M1024.5,1022 C1027.5,1026 1026.5,1028 1024.5,1028 C1022.5,1028 1021.5,1026 1024.5,1022Z" fill="#3a6f9a"/>
<path d="M1031,1018 C1034,1022 1033,1024 1031,1024 C1029,1024 1028,1022 1031,1018Z" fill="#3a6f9a"/>
<path d="M1028,1032 C1031,1036 1030,1038 1028,1038 C1026,1038 1025,1036 1028,1032Z" fill="#3a6f9a"/>
<path d="M1035,1026 C1038,1030 1037,1032 1035,1032 C1033,1032 1032,1030 1035,1026Z" fill="#3a6f9a"/>
<path d="M1042,1022 C1045,1026 1044,1028 1042,1028 C1040,1028 1039,1026 1042,1022Z" fill="#3a6f9a"/>
<path d="M1045.8,1005.8 L1035,1024.2 H1043.3 L1040.8,1041.7 L1055.8,1019.2 H1046.7 Z" fill="url(#gBolt)"/>
</svg>
</div></body></html>
